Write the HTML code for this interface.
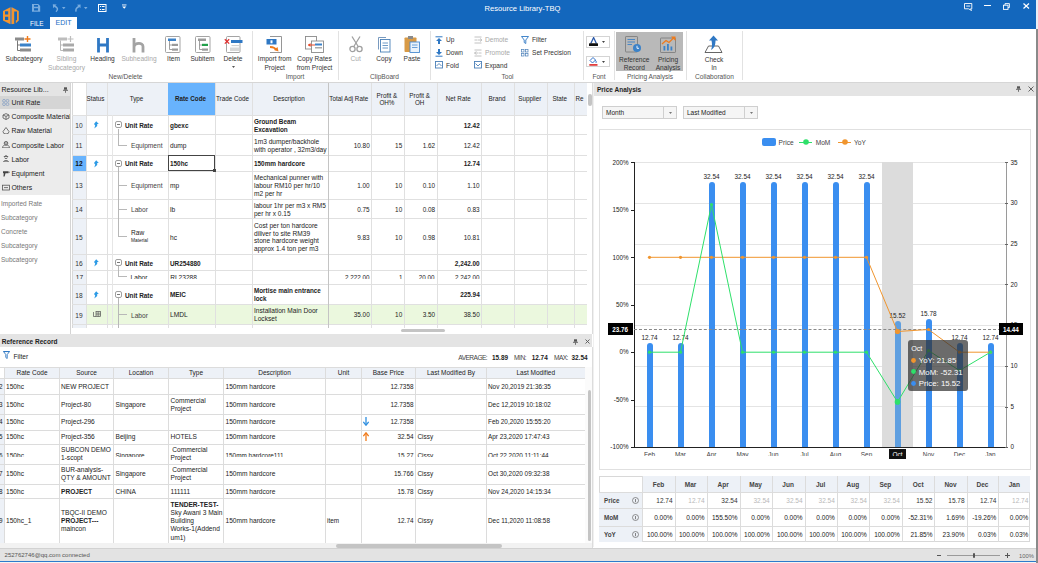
<!DOCTYPE html><html><head><meta charset="utf-8"><style>
*{margin:0;padding:0;box-sizing:border-box}
html,body{width:1038px;height:563px;overflow:hidden;background:#fff;font-family:"Liberation Sans",sans-serif;}
.t{position:absolute;white-space:pre;}
.r{position:absolute;}
</style></head><body>
<div class="r" style="left:0px;top:0px;width:1037px;height:29px;background:#1367bd;"></div>
<div class="r" style="left:1036px;top:0px;width:2px;height:29px;background:#e8eef6;"></div>
<svg class="r" style="left:0px;top:4px;" width="22" height="22" viewBox="0 0 22 22">
<path fill-rule="evenodd" fill="#f3952f" d="M10.4 3.2 L3 7 L3 16.6 L10.4 20.2 Z M5 7.2 H8.2 V10.5 H5 Z M5 12.8 H8.2 V16.1 H5 Z"/>
<rect x="10.4" y="3.4" width="1.4" height="16.6" fill="#7b8aa3"/>
<path fill-rule="evenodd" fill="#f3952f" d="M11.8 3.2 L18.8 7 L18.8 16.6 L15.8 19.2 L15.8 16.2 L17 16.2 L17 7.6 L14.2 7.6 L14.2 19.4 L15.2 19.4 L15.2 19.6 L11.8 20.2 Z"/>
</svg>
<svg class="r" style="left:32px;top:4px;" width="9" height="8" viewBox="0 0 9 8"><path fill-rule="evenodd" fill="#78acdf" d="M0 0 H6.2 L8.2 2 V7.8 H0 Z M2 1 H6 V2.8 H2 Z M2 4.2 H6 V6.6 H2 Z"/></svg>
<svg class="r" style="left:52px;top:4px;" width="8" height="9" viewBox="0 0 8 9"><path d="M0.8 0.3 L4.6 0.6 L1.2 4.2 Z" fill="#78acdf"/><path d="M2.4 2.2 C5.6 3 6.6 5.6 4 7.8" fill="none" stroke="#78acdf" stroke-width="1.5"/></svg>
<svg class="r" style="left:62px;top:7px;" width="4" height="3" viewBox="0 0 4 3"><path d="M0 0 L3.5 0 L1.75 2.2 Z" fill="#78acdf"/></svg>
<svg class="r" style="left:74px;top:4px;" width="8" height="9" viewBox="0 0 8 9"><path d="M6.6 0.5 L6.5 4.2 L3 0.8 Z" fill="#78acdf"/><path d="M5.4 2.2 C2.4 3.4 1.2 5.4 2.2 7.6" fill="none" stroke="#78acdf" stroke-width="1.5"/></svg>
<svg class="r" style="left:84px;top:7px;" width="4" height="3" viewBox="0 0 4 3"><path d="M0 0 L3.5 0 L1.75 2.2 Z" fill="#78acdf"/></svg>
<svg class="r" style="left:98px;top:4px;" width="9" height="8" viewBox="0 0 9 8"><rect x="0.5" y="0.5" width="7.5" height="7" fill="none" stroke="#fff" stroke-width="1"/><rect x="2" y="2" width="1" height="1" fill="#fff"/><rect x="3.8" y="2" width="2.8" height="1" fill="#fff"/><rect x="2" y="5" width="1" height="1" fill="#fff"/><rect x="3.8" y="5" width="2.8" height="1" fill="#fff"/></svg>
<svg class="r" style="left:122px;top:4px;" width="5" height="6" viewBox="0 0 5 6"><rect x="0" y="0.5" width="4.5" height="0.9" fill="#fff"/><path d="M0.2 2.4 L4.3 2.4 L2.25 4.8 Z" fill="#fff"/></svg>
<div class="t" style="top:4.32px;font-size:7.6px;line-height:9.12px;color:#fff;left:422.5px;width:200px;text-align:center;">Resource Library-TBQ</div>
<svg class="r" style="left:963.8px;top:2.6px;" width="9" height="8" viewBox="0 0 9 8"><path d="M0.5 0.5 H7.8 V5.8 H6.5 L7.5 7.5 L4.5 5.8 H0.5 Z" fill="none" stroke="#fff" stroke-width="0.9"/><rect x="2.2" y="2.6" width="4" height="0.9" fill="#fff"/></svg>
<div class="r" style="left:984.3px;top:5.2px;width:6.5px;height:1.1px;background:#fff;"></div>
<svg class="r" style="left:1003px;top:3px;" width="7" height="7" viewBox="0 0 7 7"><rect x="0.5" y="2.2" width="4.5" height="4.2" fill="none" stroke="#fff" stroke-width="0.9"/><path d="M2 2.2 V0.6 H6.4 V4.6 H5" fill="none" stroke="#fff" stroke-width="0.9"/></svg>
<svg class="r" style="left:1023px;top:3px;" width="7" height="6" viewBox="0 0 7 6"><path d="M0.5 0.5 L6 5.5 M6 0.5 L0.5 5.5" stroke="#fff" stroke-width="1.2"/></svg>
<div class="t" style="top:19.58px;font-size:6.4px;line-height:7.68px;color:#fff;left:30px;">FILE</div>
<div class="r" style="left:50px;top:17px;width:27px;height:12px;background:#fff;"></div>
<div class="t" style="top:19.25px;font-size:7px;line-height:8.4px;color:#1a6ec4;left:50.0px;width:27px;text-align:center;">EDIT</div>
<div class="r" style="left:0px;top:29px;width:1037px;height:53px;background:#fff;"></div>
<div class="r" style="left:0px;top:82px;width:1037px;height:1px;background:#d6d6d6;"></div>
<div class="r" style="left:251.5px;top:31px;width:1px;height:49px;background:#e2e2e2;"></div>
<div class="r" style="left:338px;top:31px;width:1px;height:49px;background:#e2e2e2;"></div>
<div class="r" style="left:429.5px;top:31px;width:1px;height:49px;background:#e2e2e2;"></div>
<div class="r" style="left:582.5px;top:31px;width:1px;height:49px;background:#e2e2e2;"></div>
<div class="r" style="left:613.5px;top:31px;width:1px;height:49px;background:#e2e2e2;"></div>
<div class="r" style="left:685.5px;top:31px;width:1px;height:49px;background:#e2e2e2;"></div>
<div class="r" style="left:742px;top:31px;width:1px;height:49px;background:#e2e2e2;"></div>
<div class="t" style="top:73.37px;font-size:6.6px;line-height:7.92px;color:#555;left:25.5px;width:200px;text-align:center;">New/Delete</div>
<div class="t" style="top:73.37px;font-size:6.6px;line-height:7.92px;color:#555;left:195.0px;width:200px;text-align:center;">Import</div>
<div class="t" style="top:73.37px;font-size:6.6px;line-height:7.92px;color:#555;left:284.5px;width:200px;text-align:center;">ClipBoard</div>
<div class="t" style="top:73.37px;font-size:6.6px;line-height:7.92px;color:#555;left:407.5px;width:200px;text-align:center;">Tool</div>
<div class="t" style="top:73.37px;font-size:6.6px;line-height:7.92px;color:#555;left:499.0px;width:200px;text-align:center;">Font</div>
<div class="t" style="top:73.37px;font-size:6.6px;line-height:7.92px;color:#555;left:550.0px;width:200px;text-align:center;">Pricing Analysis</div>
<div class="t" style="top:73.37px;font-size:6.6px;line-height:7.92px;color:#555;left:614.5px;width:200px;text-align:center;">Collaboration</div>
<svg class="r" style="left:15px;top:36px;" width="18" height="17" viewBox="0 0 18 17"><rect x="0" y="1.5" width="9" height="3" fill="#8c8c8c"/><path d="M12.5 0 V6 M9.5 3 H15.5" stroke="#f07a1a" stroke-width="1.4"/>
<path d="M2.5 4.5 V14.5 H5 M2.5 9 H5" fill="none" stroke="#6a6a6a" stroke-width="0.9"/><rect x="5" y="7.5" width="11" height="3" fill="#3c82c8"/><rect x="5" y="12.5" width="11" height="3" fill="#8c8c8c"/></svg>
<div class="t" style="top:55.27px;font-size:6.6px;line-height:7.92px;color:#333;left:-76.0px;width:200px;text-align:center;">Subcategory</div>
<svg class="r" style="left:58px;top:36px;" width="18" height="17" viewBox="0 0 18 17"><rect x="0" y="1.5" width="9" height="3" fill="#bdbdbd"/><path d="M12.5 0 V6 M9.5 3 H15.5" stroke="#bdbdbd" stroke-width="1.2"/>
<path d="M2.5 4.5 V14.5 H5 M2.5 9 H5" fill="none" stroke="#b0b0b0" stroke-width="0.9"/><rect x="5" y="7.5" width="11" height="3" fill="#a9a9a9"/><rect x="5" y="12.5" width="11" height="3" fill="#a9a9a9"/></svg>
<div class="t" style="top:55.27px;font-size:6.6px;line-height:7.92px;color:#a8a8a8;left:-33.5px;width:200px;text-align:center;">Sibling</div>
<div class="t" style="top:64.07px;font-size:6.6px;line-height:7.92px;color:#a8a8a8;left:-33.5px;width:200px;text-align:center;">Subcategory</div>
<svg class="r" style="left:96.5px;top:38px;" width="12" height="15" viewBox="0 0 12 15"><path d="M1.5 0 V14.5 M10.5 0 V14.5 M1.5 7 H10.5" stroke="#2f78c4" stroke-width="2.8"/></svg>
<div class="t" style="top:55.27px;font-size:6.6px;line-height:7.92px;color:#333;left:2.5px;width:200px;text-align:center;">Heading</div>
<svg class="r" style="left:132px;top:38px;" width="13" height="15" viewBox="0 0 13 15"><path d="M2 0 V14.5 M2 8.5 C3 4.5 11 4 11 8.5 V14.5" fill="none" stroke="#a3a3a3" stroke-width="2.8"/></svg>
<div class="t" style="top:55.27px;font-size:6.6px;line-height:7.92px;color:#a8a8a8;left:39.0px;width:200px;text-align:center;">Subheading</div>
<svg class="r" style="left:165px;top:36px;" width="16" height="17" viewBox="0 0 16 17"><rect x="0.5" y="0.5" width="14.5" height="16" rx="1" fill="#fff" stroke="#9a9a9a" stroke-width="0.9"/><rect x="3" y="2.5" width="8" height="2.5" fill="#3c82c8"/>
<path d="M4.5 5 V13.5 H7 M4.5 9 H7" fill="none" stroke="#888" stroke-width="0.8"/><rect x="7" y="7.8" width="6" height="2.2" fill="#9a9a9a"/><rect x="7" y="12.5" width="6" height="2.2" fill="#9a9a9a"/></svg>
<div class="t" style="top:55.27px;font-size:6.6px;line-height:7.92px;color:#333;left:73.5px;width:200px;text-align:center;">Item</div>
<svg class="r" style="left:195px;top:36px;" width="16" height="17" viewBox="0 0 16 17"><rect x="0.5" y="0.5" width="14.5" height="16" rx="1" fill="#fff" stroke="#9a9a9a" stroke-width="0.9"/><rect x="3" y="2.5" width="8" height="2.5" fill="#9a9a9a"/>
<path d="M4.5 5 V13.5 H7 M4.5 9 H7" fill="none" stroke="#888" stroke-width="0.8"/><rect x="7" y="7.8" width="6" height="2.2" fill="#21a04a"/><rect x="7" y="12.5" width="6" height="2.2" fill="#9a9a9a"/></svg>
<div class="t" style="top:55.27px;font-size:6.6px;line-height:7.92px;color:#333;left:102.5px;width:200px;text-align:center;">Subitem</div>
<svg class="r" style="left:224px;top:36px;" width="19" height="17" viewBox="0 0 19 17"><rect x="2.5" y="0.5" width="13.5" height="16" rx="1" fill="#fff" stroke="#9a9a9a" stroke-width="0.9"/>
<rect x="7" y="4" width="11.5" height="3" fill="#2f78c4"/><path d="M7.5 9.6 H15" stroke="#aaa" stroke-width="0.6"/><rect x="6" y="11.5" width="9" height="3.5" fill="#d8d8d8"/><path d="M0.8 3.2 L5.2 7.6 M5.2 3.2 L0.8 7.6" stroke="#e03030" stroke-width="1.3"/></svg>
<div class="t" style="top:55.27px;font-size:6.6px;line-height:7.92px;color:#333;left:133.0px;width:200px;text-align:center;">Delete</div>
<svg class="r" style="left:231.5px;top:65.5px;" width="3" height="2" viewBox="0 0 3 2"><path d="M0 0 H3 L1.5 2 Z" fill="#555"/></svg>
<svg class="r" style="left:266px;top:36px;" width="17" height="17" viewBox="0 0 17 17"><path d="M4 0.5 H15.5 V16.5 H4" fill="#fff" stroke="#8a8a8a" stroke-width="0.9"/><rect x="0.5" y="3" width="10" height="5.5" fill="#2f78c4"/><rect x="4.5" y="4.3" width="2" height="3" fill="#fff"/>
<path d="M4 11 C7 11 9 11.5 10 14" fill="none" stroke="#f07a1a" stroke-width="1.8"/><path d="M8 14 L12.5 15.5 L11.5 11 Z" fill="#f07a1a"/></svg>
<div class="t" style="top:55.27px;font-size:6.6px;line-height:7.92px;color:#333;left:174.7px;width:200px;text-align:center;">Import from</div>
<div class="t" style="top:63.77px;font-size:6.6px;line-height:7.92px;color:#333;left:174.7px;width:200px;text-align:center;">Project</div>
<svg class="r" style="left:305px;top:36px;" width="19" height="17" viewBox="0 0 19 17"><rect x="0.5" y="0.5" width="11" height="12.5" fill="#fff" stroke="#8a8a8a" stroke-width="0.9"/><rect x="6.5" y="5" width="12" height="11.5" fill="#fff" stroke="#8a8a8a" stroke-width="0.9"/>
<rect x="10" y="7.5" width="7" height="2" fill="#3c82c8"/><rect x="10" y="11" width="7" height="1.5" fill="#aaa"/><path d="M3 9 H10" stroke="#e84a2a" stroke-width="1"/><path d="M3 9 L5.5 7 V11 Z" fill="#e84a2a"/></svg>
<div class="t" style="top:55.27px;font-size:6.6px;line-height:7.92px;color:#333;left:214.60000000000002px;width:200px;text-align:center;">Copy Rates</div>
<div class="t" style="top:63.77px;font-size:6.6px;line-height:7.92px;color:#333;left:214.60000000000002px;width:200px;text-align:center;">from Project</div>
<svg class="r" style="left:349px;top:36px;" width="14" height="17" viewBox="0 0 14 17"><path d="M3 0.5 L9.5 11 M11 0.5 L4.5 11" stroke="#a0a0a0" stroke-width="1.3"/><circle cx="3.5" cy="13" r="2.6" fill="none" stroke="#a0a0a0" stroke-width="1.3"/><circle cx="10.5" cy="13" r="2.6" fill="none" stroke="#a0a0a0" stroke-width="1.3"/></svg>
<div class="t" style="top:55.27px;font-size:6.6px;line-height:7.92px;color:#a8a8a8;left:255.7px;width:200px;text-align:center;">Cut</div>
<svg class="r" style="left:378px;top:37px;" width="13" height="16" viewBox="0 0 13 16"><path d="M0.5 12.5 V0.5 H8" fill="none" stroke="#6a8fb8" stroke-width="0.9"/><rect x="2.5" y="2.5" width="9.5" height="12.5" fill="#fff" stroke="#4a80b8" stroke-width="0.9"/>
<path d="M4.5 6 H10 M4.5 8.5 H10 M4.5 11 H10" stroke="#4a80b8" stroke-width="0.8"/></svg>
<div class="t" style="top:55.27px;font-size:6.6px;line-height:7.92px;color:#333;left:284.0px;width:200px;text-align:center;">Copy</div>
<svg class="r" style="left:404px;top:35px;" width="16" height="18" viewBox="0 0 16 18"><rect x="0.5" y="2.5" width="12" height="14.5" rx="0.8" fill="#d89a46"/><rect x="4" y="1" width="5" height="3" fill="#8a8a8a"/>
<rect x="6" y="7" width="9.5" height="10.5" fill="#eaf3fb" stroke="#4a8ad0" stroke-width="0.9"/><path d="M8 10 H13.5 M8 12.5 H13.5" stroke="#4a8ad0" stroke-width="0.8"/></svg>
<div class="t" style="top:55.27px;font-size:6.6px;line-height:7.92px;color:#333;left:312.0px;width:200px;text-align:center;">Paste</div>
<svg class="r" style="left:435px;top:35.5px;" width="9" height="8" viewBox="0 0 9 8"><path d="M0.5 0.8 H7.5" stroke="#2f78c4" stroke-width="1"/><path d="M4 2 L1 5 H3 V8 H5 V5 H7 Z" fill="#2f78c4"/></svg>
<div class="t" style="top:36.37px;font-size:6.6px;line-height:7.92px;color:#333;left:446px;">Up</div>
<svg class="r" style="left:435px;top:48.5px;" width="9" height="8" viewBox="0 0 9 8"><path d="M0.5 7.2 H7.5" stroke="#2f78c4" stroke-width="1"/><path d="M4 6 L1 3 H3 V0 H5 V3 H7 Z" fill="#2f78c4"/></svg>
<div class="t" style="top:49.37px;font-size:6.6px;line-height:7.92px;color:#333;left:446px;">Down</div>
<svg class="r" style="left:435px;top:61px;" width="9" height="8" viewBox="0 0 9 8"><rect x="0.5" y="0.5" width="7" height="6.5" fill="none" stroke="#4a7fb8" stroke-width="0.9"/><path d="M1.5 5 L4 2.5 L6.5 5" fill="none" stroke="#4a7fb8" stroke-width="0.9"/></svg>
<div class="t" style="top:61.87px;font-size:6.6px;line-height:7.92px;color:#333;left:446px;">Fold</div>
<svg class="r" style="left:474px;top:35.5px;" width="9" height="8" viewBox="0 0 9 8"><path d="M0.5 1 H7.5 M0.5 4 H3 M0.5 7 H7.5 M3.5 4 H7.5" stroke="#bbb" stroke-width="0.9"/><path d="M6 2.5 L8 4 L6 5.5" fill="none" stroke="#bbb" stroke-width="0.9"/></svg>
<div class="t" style="top:36.37px;font-size:6.6px;line-height:7.92px;color:#a8a8a8;left:485px;">Demote</div>
<svg class="r" style="left:474px;top:48.5px;" width="9" height="8" viewBox="0 0 9 8"><path d="M0.5 1 H7.5 M5 4 H7.5 M0.5 7 H7.5 M0.5 4 H4.5" stroke="#bbb" stroke-width="0.9"/><path d="M2.5 2.5 L0.5 4 L2.5 5.5" fill="none" stroke="#bbb" stroke-width="0.9"/></svg>
<div class="t" style="top:49.37px;font-size:6.6px;line-height:7.92px;color:#a8a8a8;left:485px;">Promote</div>
<svg class="r" style="left:474px;top:61px;" width="9" height="8" viewBox="0 0 9 8"><rect x="0.5" y="0.5" width="7" height="6.5" fill="none" stroke="#4a7fb8" stroke-width="0.9"/><path d="M1.5 2.5 L4 5 L6.5 2.5" fill="none" stroke="#4a7fb8" stroke-width="0.9"/></svg>
<div class="t" style="top:61.87px;font-size:6.6px;line-height:7.92px;color:#333;left:485px;">Expand</div>
<svg class="r" style="left:521px;top:35.5px;" width="9" height="8" viewBox="0 0 9 8"><path d="M0.5 0.5 H7.5 L4.8 4 V7.5 L3.2 6.5 V4 Z" fill="none" stroke="#2f78c4" stroke-width="0.9"/></svg>
<div class="t" style="top:36.37px;font-size:6.6px;line-height:7.92px;color:#333;left:532px;">Filter</div>
<svg class="r" style="left:521px;top:48.5px;" width="9" height="8" viewBox="0 0 9 8"><rect x="0.5" y="0.5" width="2.5" height="2.5" fill="none" stroke="#4a7fb8" stroke-width="0.7"/><rect x="4.5" y="0.5" width="2.5" height="2.5" fill="none" stroke="#4a7fb8" stroke-width="0.7"/><rect x="0.5" y="4.5" width="2.5" height="2.5" fill="none" stroke="#4a7fb8" stroke-width="0.7"/><rect x="4.5" y="4.5" width="2.5" height="2.5" fill="none" stroke="#4a7fb8" stroke-width="0.7"/></svg>
<div class="t" style="top:49.37px;font-size:6.6px;line-height:7.92px;color:#333;left:532px;">Set Precision</div>
<div class="r" style="left:586px;top:36px;width:24px;height:12px;background:#fff;border:1px solid #d4d4d4;"></div>
<svg class="r" style="left:589px;top:37px;" width="10" height="10" viewBox="0 0 10 10"><path d="M1.8 6.6 L4.6 0.6 L7.4 6.6" fill="none" stroke="#2a58a8" stroke-width="1.3"/><rect x="0" y="6.3" width="9" height="2.8" rx="0.5" fill="#111"/></svg>
<svg class="r" style="left:602px;top:41px;" width="3" height="2" viewBox="0 0 3 2"><path d="M0 0 H3 L1.5 2 Z" fill="#444"/></svg>
<div class="r" style="left:586px;top:55.5px;width:24px;height:11.5px;background:#fff;border:1px solid #d4d4d4;"></div>
<svg class="r" style="left:589px;top:56.5px;" width="10" height="10" viewBox="0 0 10 10"><path d="M4 0.5 L1 3.5 L3.5 6 L6.5 3 Z" fill="none" stroke="#3070c8" stroke-width="1"/><path d="M6 3.2 C7.5 4 7.5 5 6.8 6" fill="none" stroke="#3070c8" stroke-width="1"/><rect x="0.3" y="7" width="8.2" height="1.8" fill="#e04040"/></svg>
<svg class="r" style="left:602px;top:60.5px;" width="3" height="2" viewBox="0 0 3 2"><path d="M0 0 H3 L1.5 2 Z" fill="#444"/></svg>
<div class="r" style="left:616px;top:32px;width:67px;height:39px;background:#b9b9b9;"></div>
<svg class="r" style="left:625px;top:36px;" width="17" height="17" viewBox="0 0 17 17"><rect x="0.5" y="0.5" width="12" height="15.5" rx="0.6" fill="none" stroke="#7f7f7f" stroke-width="0.9"/>
<path d="M2.5 3.5 H10 M2.5 6 H10 M2.5 8.5 H7" stroke="#3c82c8" stroke-width="0.9"/><circle cx="12" cy="12" r="4" fill="#3c82c8"/><path d="M12 9.8 V12.3 H14" fill="none" stroke="#fff" stroke-width="0.9"/></svg>
<div class="t" style="top:55.87px;font-size:6.6px;line-height:7.92px;color:#333;left:534.3px;width:200px;text-align:center;">Reference</div>
<div class="t" style="top:64.07px;font-size:6.6px;line-height:7.92px;color:#333;left:534.3px;width:200px;text-align:center;">Record</div>
<svg class="r" style="left:660px;top:36px;" width="17" height="17" viewBox="0 0 17 17"><rect x="0.5" y="2" width="15" height="14.5" rx="0.6" fill="none" stroke="#7f7f7f" stroke-width="0.9"/>
<rect x="3.5" y="10" width="1.8" height="4.5" fill="#3c82c8"/><rect x="7" y="8" width="1.8" height="6.5" fill="#3c82c8"/><rect x="10.5" y="10.5" width="1.8" height="4" fill="#3c82c8"/>
<path d="M2 8 L6 4.5 L9 6.5 L14 1.5" fill="none" stroke="#f07a1a" stroke-width="1.2"/><path d="M11 0.5 H15.5 V5 Z" fill="#f07a1a"/></svg>
<div class="t" style="top:55.87px;font-size:6.6px;line-height:7.92px;color:#333;left:568.0px;width:200px;text-align:center;">Pricing</div>
<div class="t" style="top:64.07px;font-size:6.6px;line-height:7.92px;color:#333;left:568.0px;width:200px;text-align:center;">Analysis</div>
<svg class="r" style="left:704px;top:35px;" width="19" height="19" viewBox="0 0 19 19"><path d="M1 17.5 L4.5 11 H14.5 L18 17.5 Z" fill="#fff" stroke="#555" stroke-width="0.9"/>
<path d="M9.5 0.5 L14 5.5 H11.5 C11.5 10 10.5 13 7 15 C8.5 12 8 8 7.5 5.5 H5 Z" fill="#2f78c4"/></svg>
<div class="t" style="top:55.77px;font-size:6.6px;line-height:7.92px;color:#333;left:614.0px;width:200px;text-align:center;">Check</div>
<div class="t" style="top:63.77px;font-size:6.6px;line-height:7.92px;color:#333;left:614.0px;width:200px;text-align:center;">In</div>
<div class="r" style="left:1036px;top:29px;width:2px;height:534px;background:#8a8a8a;"></div>
<div class="r" style="left:0px;top:83px;width:71px;height:251px;background:#fff;"></div>
<div class="r" style="left:0px;top:83px;width:71px;height:13px;background:#e4e4e4;"></div>
<div class="t" style="top:86.15px;font-size:7px;line-height:8.4px;color:#222;left:1.5px;">Resource Lib...</div>
<svg class="r" style="left:62.8px;top:86.8px;" width="5" height="7" viewBox="0 0 5 7"><rect x="1" y="0.3" width="3" height="2.4" fill="#555"/><rect x="0" y="2.8" width="5" height="0.9" fill="#555"/><rect x="2.1" y="3.6" width="0.8" height="2.2" fill="#555"/></svg>
<div class="r" style="left:0px;top:96px;width:71px;height:99px;background:#ececec;"></div>
<div class="r" style="left:0px;top:96px;width:71px;height:13px;background:#d5d5d5;"></div>
<div class="t" style="top:99.20px;font-size:6.9px;line-height:8.28px;color:#222;left:11.5px;">Unit Rate</div>
<svg class="r" style="left:1.5px;top:99.0px;" width="8" height="7" viewBox="0 0 8 7"><circle cx="2" cy="1.8" r="1.4" fill="none" stroke="#8aa2c4" stroke-width="0.8"/><circle cx="5.5" cy="1.8" r="1.4" fill="none" stroke="#8aa2c4" stroke-width="0.8"/><circle cx="2" cy="5.2" r="1.4" fill="none" stroke="#8aa2c4" stroke-width="0.8"/><circle cx="5.5" cy="5.2" r="1.4" fill="none" stroke="#8aa2c4" stroke-width="0.8"/></svg>
<div class="t" style="top:113.30px;font-size:6.9px;line-height:8.28px;color:#222;left:11.5px;">Composite Material</div>
<svg class="r" style="left:1.5px;top:113.1px;" width="8" height="7" viewBox="0 0 8 7"><path d="M1 2 L4 0.6 L7 2 V5 L4 6.5 L1 5 Z M1 2 L4 3.4 L7 2 M4 3.4 V6.5" fill="none" stroke="#555" stroke-width="0.8"/></svg>
<div class="t" style="top:127.40px;font-size:6.9px;line-height:8.28px;color:#222;left:11.5px;">Raw Material</div>
<svg class="r" style="left:1.5px;top:127.19999999999999px;" width="8" height="7" viewBox="0 0 8 7"><path d="M4 0.5 L1 4.5 A3 2.5 0 0 0 7 4.5 Z" fill="none" stroke="#555" stroke-width="0.8"/></svg>
<div class="t" style="top:141.51px;font-size:6.9px;line-height:8.28px;color:#222;left:11.5px;">Composite Labor</div>
<svg class="r" style="left:1.5px;top:141.3px;" width="8" height="7" viewBox="0 0 8 7"><circle cx="4" cy="2.2" r="1.8" fill="none" stroke="#555" stroke-width="0.8"/><path d="M0.5 6.8 C0.8 4.5 2 4 4 4 C6 4 7.2 4.5 7.5 6.8 Z M2 2 H6" fill="none" stroke="#555" stroke-width="0.8"/></svg>
<div class="t" style="top:155.61px;font-size:6.9px;line-height:8.28px;color:#222;left:11.5px;">Labor</div>
<svg class="r" style="left:1.5px;top:155.4px;" width="8" height="7" viewBox="0 0 8 7"><path d="M1.8 1.5 H6.2 M2.5 1.5 C2.5 0.5 5.5 0.5 5.5 1.5 M2.6 2.5 C2.6 4 5.4 4 5.4 2.5 M1.5 6.8 C1.5 5 6.5 5 6.5 6.8 Z" fill="none" stroke="#555" stroke-width="0.8"/></svg>
<div class="t" style="top:169.71px;font-size:6.9px;line-height:8.28px;color:#222;left:11.5px;">Equipment</div>
<svg class="r" style="left:1.5px;top:169.5px;" width="8" height="7" viewBox="0 0 8 7"><path d="M1 1.2 H6.5 V3.2 H3.5 L2.6 6.5 H1.4 L1.8 3.2 H1 Z" fill="#444"/><path d="M6.5 2.2 H7.8" stroke="#444" stroke-width="0.8"/></svg>
<div class="t" style="top:183.81px;font-size:6.9px;line-height:8.28px;color:#222;left:11.5px;">Others</div>
<svg class="r" style="left:1.5px;top:183.6px;" width="8" height="7" viewBox="0 0 8 7"><rect x="0.5" y="1.2" width="7" height="4.8" fill="none" stroke="#555" stroke-width="0.8"/><path d="M2 3.6 H6" stroke="#555" stroke-width="0.8"/></svg>
<div class="t" style="top:199.72px;font-size:6.5px;line-height:7.8px;color:#777;left:1px;">Imported Rate</div>
<div class="t" style="top:213.67px;font-size:6.5px;line-height:7.8px;color:#777;left:1px;">Subcategory</div>
<div class="t" style="top:227.62px;font-size:6.5px;line-height:7.8px;color:#777;left:1px;">Concrete</div>
<div class="t" style="top:241.57px;font-size:6.5px;line-height:7.8px;color:#777;left:1px;">Subcategory</div>
<div class="t" style="top:255.53px;font-size:6.5px;line-height:7.8px;color:#777;left:1px;">Subcategory</div>
<div class="r" style="left:70px;top:83px;width:1px;height:251px;background:#d4d4d4;"></div>
<div class="r" style="left:71px;top:83px;width:1px;height:251px;background:#fff;"></div>
<div class="r" style="left:72px;top:83px;width:1px;height:251px;background:#d8d8d8;"></div>
<div class="r" style="left:73px;top:83px;width:514px;height:251px;background:#fff;"></div>
<div class="r" style="left:86px;top:83px;width:501px;height:32px;background:#edf1f7;"></div>
<div class="r" style="left:73px;top:115px;width:13px;height:213px;background:#edf1f7;"></div>
<div class="r" style="left:73px;top:155px;width:13px;height:16px;background:#68b3fd;"></div>
<div class="r" style="left:86px;top:304.2px;width:501px;height:20.2px;background:#ebf8de;"></div>
<div class="r" style="left:72px;top:115px;width:515px;height:1px;background:#e0e0e0;"></div>
<div class="r" style="left:72px;top:134px;width:515px;height:1px;background:#e0e0e0;"></div>
<div class="r" style="left:72px;top:155px;width:515px;height:1px;background:#e0e0e0;"></div>
<div class="r" style="left:72px;top:171px;width:515px;height:1px;background:#e0e0e0;"></div>
<div class="r" style="left:72px;top:199px;width:515px;height:1px;background:#e0e0e0;"></div>
<div class="r" style="left:72px;top:218px;width:515px;height:1px;background:#e0e0e0;"></div>
<div class="r" style="left:72px;top:254px;width:515px;height:1px;background:#e0e0e0;"></div>
<div class="r" style="left:72px;top:270px;width:515px;height:1px;background:#e0e0e0;"></div>
<div class="r" style="left:72px;top:284px;width:515px;height:1px;background:#e0e0e0;"></div>
<div class="r" style="left:72px;top:304px;width:515px;height:1px;background:#e0e0e0;"></div>
<div class="r" style="left:72px;top:324px;width:515px;height:1px;background:#e0e0e0;"></div>
<div class="r" style="left:86px;top:83px;width:1px;height:245px;background:#e0e0e0;"></div>
<div class="r" style="left:107px;top:83px;width:1px;height:245px;background:#e0e0e0;"></div>
<div class="r" style="left:168px;top:83px;width:1px;height:245px;background:#e0e0e0;"></div>
<div class="r" style="left:215px;top:83px;width:1px;height:245px;background:#e0e0e0;"></div>
<div class="r" style="left:252px;top:83px;width:1px;height:245px;background:#e0e0e0;"></div>
<div class="r" style="left:328px;top:83px;width:1px;height:245px;background:#c4c4c4;"></div>
<div class="r" style="left:371px;top:83px;width:1px;height:245px;background:#e0e0e0;"></div>
<div class="r" style="left:404px;top:83px;width:1px;height:245px;background:#e0e0e0;"></div>
<div class="r" style="left:437px;top:83px;width:1px;height:245px;background:#e0e0e0;"></div>
<div class="r" style="left:481px;top:83px;width:1px;height:245px;background:#e0e0e0;"></div>
<div class="r" style="left:514px;top:83px;width:1px;height:245px;background:#e0e0e0;"></div>
<div class="r" style="left:547px;top:83px;width:1px;height:245px;background:#e0e0e0;"></div>
<div class="r" style="left:574px;top:83px;width:1px;height:245px;background:#e0e0e0;"></div>
<div class="r" style="left:112px;top:115px;width:1px;height:213px;background:#e6e6e6;"></div>
<div class="r" style="left:168px;top:83px;width:47px;height:32px;background:#68b3fd;"></div>
<div class="t" style="top:95.03px;font-size:6.3px;line-height:7.56px;color:#222;left:-4.5px;width:200px;text-align:center;">Status</div>
<div class="t" style="top:95.03px;font-size:6.3px;line-height:7.56px;color:#222;left:36.5px;width:200px;text-align:center;">Type</div>
<div class="t" style="top:95.03px;font-size:6.3px;line-height:7.56px;color:#222;font-weight:bold;left:90.5px;width:200px;text-align:center;">Rate Code</div>
<div class="t" style="top:95.03px;font-size:6.3px;line-height:7.56px;color:#222;left:132.5px;width:200px;text-align:center;">Trade Code</div>
<div class="t" style="top:95.03px;font-size:6.3px;line-height:7.56px;color:#222;left:189.0px;width:200px;text-align:center;">Description</div>
<div class="t" style="top:95.03px;font-size:6.3px;line-height:7.56px;color:#222;left:248.75px;width:200px;text-align:center;">Total Adj Rate</div>
<div class="t" style="top:91.83px;font-size:6.3px;line-height:7.56px;color:#222;left:286.95px;width:200px;text-align:center;">Profit &</div>
<div class="t" style="top:98.83px;font-size:6.3px;line-height:7.56px;color:#222;left:286.95px;width:200px;text-align:center;">OH%</div>
<div class="t" style="top:91.83px;font-size:6.3px;line-height:7.56px;color:#222;left:319.7px;width:200px;text-align:center;">Profit &</div>
<div class="t" style="top:98.83px;font-size:6.3px;line-height:7.56px;color:#222;left:319.7px;width:200px;text-align:center;">OH</div>
<div class="t" style="top:95.03px;font-size:6.3px;line-height:7.56px;color:#222;left:358.25px;width:200px;text-align:center;">Net Rate</div>
<div class="t" style="top:95.03px;font-size:6.3px;line-height:7.56px;color:#222;left:397.0px;width:200px;text-align:center;">Brand</div>
<div class="t" style="top:95.03px;font-size:6.3px;line-height:7.56px;color:#222;left:429.75px;width:200px;text-align:center;">Supplier</div>
<div class="t" style="top:95.03px;font-size:6.3px;line-height:7.56px;color:#222;left:459.75px;width:200px;text-align:center;">State</div>
<div class="t" style="top:95.03px;font-size:6.3px;line-height:7.56px;color:#222;left:575.5px;">Re</div>
<div class="r" style="left:585px;top:83px;width:2px;height:32px;background:#edf1f7;"></div>
<div class="r" style="left:587.5px;top:94px;width:4.5px;height:11.5px;background:#c4c4c4;border-radius:2px;"></div>
<div class="r" style="left:592px;top:83px;width:1px;height:251px;background:#dcdcdc;"></div>
<div class="t" style="top:122.12px;font-size:6.6px;line-height:7.92px;color:#333;left:-21.0px;width:200px;text-align:center;">10</div>
<svg class="r" style="left:92.8px;top:121.35px;" width="6" height="8" viewBox="0 0 6 8"><path d="M3.2 0.3 L5.8 3 H4.2 V5 L1.3 7.6 L2.2 4.6 L1 3 Z" fill="#2d9be6"/></svg>
<svg class="r" style="left:115px;top:121.25px;" width="7" height="7" viewBox="0 0 7 7"><rect x="0.5" y="0.5" width="6" height="6" rx="1.5" fill="#fff" stroke="#888" stroke-width="0.8"/><path d="M2 3.5 H5" stroke="#555" stroke-width="0.8"/></svg>
<div class="t" style="top:122.23px;font-size:6.4px;line-height:7.68px;color:#222;font-weight:bold;left:125px;">Unit Rate</div>
<div class="t" style="top:121.93px;font-size:6.4px;line-height:7.68px;color:#222;font-weight:bold;left:170px;">gbexc</div>
<div class="t" style="top:117.73px;font-size:6.4px;line-height:7.68px;color:#222;font-weight:bold;left:254px;">Ground Beam</div>
<div class="t" style="top:125.73px;font-size:6.4px;line-height:7.68px;color:#222;font-weight:bold;left:254px;">Excavation</div>
<div class="t" style="top:121.93px;font-size:6.4px;line-height:7.68px;color:#222;font-weight:bold;left:279.7px;width:200px;text-align:right;">12.42</div>
<div class="t" style="top:142.12px;font-size:6.6px;line-height:7.92px;color:#333;left:-21.0px;width:200px;text-align:center;">11</div>
<div class="r" style="left:118px;top:129px;width:1px;height:16px;background:#b8b8b8;"></div>
<div class="r" style="left:118px;top:145px;width:9px;height:1px;background:#b8b8b8;"></div>
<div class="t" style="top:142.12px;font-size:6.6px;line-height:7.92px;color:#444;left:131px;">Equipment</div>
<div class="t" style="top:141.82px;font-size:6.6px;line-height:7.92px;color:#222;left:170px;">dump</div>
<div class="t" style="top:137.62px;font-size:6.6px;line-height:7.92px;color:#222;left:254px;">1m3 dumper/backhole</div>
<div class="t" style="top:145.62px;font-size:6.6px;line-height:7.92px;color:#222;left:254px;">with operator , 32m3/day</div>
<div class="t" style="top:141.93px;font-size:6.4px;line-height:7.68px;color:#222;left:169.7px;width:200px;text-align:right;">10.80</div>
<div class="t" style="top:141.93px;font-size:6.4px;line-height:7.68px;color:#222;left:202.2px;width:200px;text-align:right;">15</div>
<div class="t" style="top:141.93px;font-size:6.4px;line-height:7.68px;color:#222;left:235.2px;width:200px;text-align:right;">1.62</div>
<div class="t" style="top:141.93px;font-size:6.4px;line-height:7.68px;color:#222;left:279.7px;width:200px;text-align:right;">12.42</div>
<div class="t" style="top:160.37px;font-size:6.6px;line-height:7.92px;color:#111;font-weight:bold;left:-21.0px;width:200px;text-align:center;">12</div>
<svg class="r" style="left:92.8px;top:159.6px;" width="6" height="8" viewBox="0 0 6 8"><path d="M3.2 0.3 L5.8 3 H4.2 V5 L1.3 7.6 L2.2 4.6 L1 3 Z" fill="#2d9be6"/></svg>
<svg class="r" style="left:115px;top:159.5px;" width="7" height="7" viewBox="0 0 7 7"><rect x="0.5" y="0.5" width="6" height="6" rx="1.5" fill="#fff" stroke="#888" stroke-width="0.8"/><path d="M2 3.5 H5" stroke="#555" stroke-width="0.8"/></svg>
<div class="t" style="top:160.48px;font-size:6.4px;line-height:7.68px;color:#222;font-weight:bold;left:125px;">Unit Rate</div>
<div class="r" style="left:168px;top:155px;width:47px;height:16px;background:transparent;border:1px solid #444;"></div>
<div class="r" style="left:213px;top:169px;width:2.5px;height:2.5px;background:#444;"></div>
<div class="t" style="top:160.18px;font-size:6.4px;line-height:7.68px;color:#222;font-weight:bold;left:170px;">150hc</div>
<div class="t" style="top:160.18px;font-size:6.4px;line-height:7.68px;color:#222;font-weight:bold;left:254px;">150mm hardcore</div>
<div class="t" style="top:160.18px;font-size:6.4px;line-height:7.68px;color:#222;font-weight:bold;left:279.7px;width:200px;text-align:right;">12.74</div>
<div class="r" style="left:118px;top:167px;width:1px;height:70px;background:#b8b8b8;"></div>
<div class="t" style="top:182.37px;font-size:6.6px;line-height:7.92px;color:#333;left:-21.0px;width:200px;text-align:center;">13</div>
<div class="r" style="left:118px;top:185px;width:9px;height:1px;background:#b8b8b8;"></div>
<div class="t" style="top:182.37px;font-size:6.6px;line-height:7.92px;color:#444;left:131px;">Equipment</div>
<div class="t" style="top:182.07px;font-size:6.6px;line-height:7.92px;color:#222;left:170px;">mp</div>
<div class="t" style="top:173.67px;font-size:6.6px;line-height:7.92px;color:#222;left:254px;">Mechanical punner with</div>
<div class="t" style="top:181.87px;font-size:6.6px;line-height:7.92px;color:#222;left:254px;">labour RM10 per hr/10</div>
<div class="t" style="top:190.07px;font-size:6.6px;line-height:7.92px;color:#222;left:254px;">m2 per hr</div>
<div class="t" style="top:182.18px;font-size:6.4px;line-height:7.68px;color:#222;left:169.7px;width:200px;text-align:right;">1.00</div>
<div class="t" style="top:182.18px;font-size:6.4px;line-height:7.68px;color:#222;left:202.2px;width:200px;text-align:right;">10</div>
<div class="t" style="top:182.18px;font-size:6.4px;line-height:7.68px;color:#222;left:235.2px;width:200px;text-align:right;">0.10</div>
<div class="t" style="top:182.18px;font-size:6.4px;line-height:7.68px;color:#222;left:279.7px;width:200px;text-align:right;">1.10</div>
<div class="t" style="top:206.12px;font-size:6.6px;line-height:7.92px;color:#333;left:-21.0px;width:200px;text-align:center;">14</div>
<div class="r" style="left:118px;top:209px;width:9px;height:1px;background:#b8b8b8;"></div>
<div class="t" style="top:206.12px;font-size:6.6px;line-height:7.92px;color:#444;left:131px;">Labor</div>
<div class="t" style="top:205.82px;font-size:6.6px;line-height:7.92px;color:#222;left:170px;">lb</div>
<div class="t" style="top:201.67px;font-size:6.5px;line-height:7.8px;color:#222;left:254px;">labour 1hr per m3 x RM5</div>
<div class="t" style="top:209.67px;font-size:6.5px;line-height:7.8px;color:#222;left:254px;">per hr x 0.15</div>
<div class="t" style="top:205.93px;font-size:6.4px;line-height:7.68px;color:#222;left:169.7px;width:200px;text-align:right;">0.75</div>
<div class="t" style="top:205.93px;font-size:6.4px;line-height:7.68px;color:#222;left:202.2px;width:200px;text-align:right;">10</div>
<div class="t" style="top:205.93px;font-size:6.4px;line-height:7.68px;color:#222;left:235.2px;width:200px;text-align:right;">0.08</div>
<div class="t" style="top:205.93px;font-size:6.4px;line-height:7.68px;color:#222;left:279.7px;width:200px;text-align:right;">0.83</div>
<div class="t" style="top:233.87px;font-size:6.6px;line-height:7.92px;color:#333;left:-21.0px;width:200px;text-align:center;">15</div>
<div class="r" style="left:118px;top:236px;width:9px;height:1px;background:#b8b8b8;"></div>
<div class="t" style="top:229.37px;font-size:6.6px;line-height:7.92px;color:#222;left:131px;">Raw</div>
<div class="t" style="top:237.86px;font-size:4.8px;line-height:5.76px;color:#222;left:131px;">Material</div>
<div class="t" style="top:233.57px;font-size:6.6px;line-height:7.92px;color:#222;left:170px;">hc</div>
<div class="t" style="top:221.82px;font-size:6.6px;line-height:7.92px;color:#222;left:254px;">Cost per ton hardcore</div>
<div class="t" style="top:229.66px;font-size:6.6px;line-height:7.92px;color:#222;left:254px;">diliver to site RM39</div>
<div class="t" style="top:237.48px;font-size:6.6px;line-height:7.92px;color:#222;left:254px;">stone hardcore weight</div>
<div class="t" style="top:245.31px;font-size:6.6px;line-height:7.92px;color:#222;left:254px;">approx 1.4 ton per m3</div>
<div class="t" style="top:233.68px;font-size:6.4px;line-height:7.68px;color:#222;left:169.7px;width:200px;text-align:right;">9.83</div>
<div class="t" style="top:233.68px;font-size:6.4px;line-height:7.68px;color:#222;left:202.2px;width:200px;text-align:right;">10</div>
<div class="t" style="top:233.68px;font-size:6.4px;line-height:7.68px;color:#222;left:235.2px;width:200px;text-align:right;">0.98</div>
<div class="t" style="top:233.68px;font-size:6.4px;line-height:7.68px;color:#222;left:279.7px;width:200px;text-align:right;">10.81</div>
<div class="t" style="top:259.87px;font-size:6.6px;line-height:7.92px;color:#333;left:-21.0px;width:200px;text-align:center;">16</div>
<svg class="r" style="left:92.8px;top:259.1px;" width="6" height="8" viewBox="0 0 6 8"><path d="M3.2 0.3 L5.8 3 H4.2 V5 L1.3 7.6 L2.2 4.6 L1 3 Z" fill="#2d9be6"/></svg>
<svg class="r" style="left:115px;top:259.0px;" width="7" height="7" viewBox="0 0 7 7"><rect x="0.5" y="0.5" width="6" height="6" rx="1.5" fill="#fff" stroke="#888" stroke-width="0.8"/><path d="M2 3.5 H5" stroke="#555" stroke-width="0.8"/></svg>
<div class="t" style="top:259.98px;font-size:6.4px;line-height:7.68px;color:#222;font-weight:bold;left:125px;">Unit Rate</div>
<div class="t" style="top:259.68px;font-size:6.4px;line-height:7.68px;color:#222;font-weight:bold;left:170px;">UR254880</div>
<div class="t" style="top:259.68px;font-size:6.4px;line-height:7.68px;color:#222;font-weight:bold;left:279.7px;width:200px;text-align:right;">2,242.00</div>
<div class="r" style="left:72px;top:271px;width:515px;height:8.3px;overflow:hidden">
<div class="t" style="left:3.799999999999997px;top:1.91px;font-size:6.6px;line-height:9px;color:#222">17</div>
<div class="t" style="left:58.599999999999994px;top:1.91px;font-size:6.6px;line-height:9px;color:#222">Labor</div>
<div class="t" style="left:98.19999999999999px;top:1.91px;font-size:6.6px;line-height:9px;color:#222">RL23288</div>
<div class="t" style="left:197.5px;width:100px;text-align:right;top:2.02px;font-size:6.3px;line-height:9px;color:#222">2,222.00</div>
<div class="t" style="left:230.5px;width:100px;text-align:right;top:2.02px;font-size:6.3px;line-height:9px;color:#222">1</div>
<div class="t" style="left:262.5px;width:100px;text-align:right;top:2.02px;font-size:6.3px;line-height:9px;color:#222">20.00</div>
<div class="t" style="left:307.5px;width:100px;text-align:right;top:2.02px;font-size:6.3px;line-height:9px;color:#222">2,242.00</div>
</div>
<div class="r" style="left:118px;top:266px;width:1px;height:11px;background:#b8b8b8;"></div>
<div class="r" style="left:118px;top:276px;width:9px;height:1px;background:#b8b8b8;"></div>
<div class="t" style="top:291.62px;font-size:6.6px;line-height:7.92px;color:#333;left:-21.0px;width:200px;text-align:center;">18</div>
<svg class="r" style="left:92.8px;top:290.85px;" width="6" height="8" viewBox="0 0 6 8"><path d="M3.2 0.3 L5.8 3 H4.2 V5 L1.3 7.6 L2.2 4.6 L1 3 Z" fill="#2d9be6"/></svg>
<svg class="r" style="left:115px;top:290.75px;" width="7" height="7" viewBox="0 0 7 7"><rect x="0.5" y="0.5" width="6" height="6" rx="1.5" fill="#fff" stroke="#888" stroke-width="0.8"/><path d="M2 3.5 H5" stroke="#555" stroke-width="0.8"/></svg>
<div class="t" style="top:291.73px;font-size:6.4px;line-height:7.68px;color:#222;font-weight:bold;left:125px;">Unit Rate</div>
<div class="t" style="top:291.43px;font-size:6.4px;line-height:7.68px;color:#222;font-weight:bold;left:170px;">MEIC</div>
<div class="t" style="top:287.28px;font-size:6.3px;line-height:7.56px;color:#222;font-weight:bold;left:254px;">Mortise main entrance</div>
<div class="t" style="top:295.28px;font-size:6.3px;line-height:7.56px;color:#222;font-weight:bold;left:254px;">lock</div>
<div class="t" style="top:291.43px;font-size:6.4px;line-height:7.68px;color:#222;font-weight:bold;left:279.7px;width:200px;text-align:right;">225.94</div>
<div class="r" style="left:118px;top:298px;width:1px;height:30px;background:#b8b8b8;"></div>
<div class="t" style="top:311.67px;font-size:6.6px;line-height:7.92px;color:#333;left:-21.0px;width:200px;text-align:center;">19</div>
<svg class="r" style="left:93px;top:311.29999999999995px;" width="8" height="6" viewBox="0 0 8 6"><path d="M0.5 1 V5.5 H3" fill="none" stroke="#555" stroke-width="0.7"/><rect x="3" y="0.5" width="4.5" height="5" fill="none" stroke="#555" stroke-width="0.7"/><path d="M3 2.2 H7.5 M3 3.8 H7.5 M5.2 0.5 V5.5" stroke="#555" stroke-width="0.6"/></svg>
<div class="r" style="left:118px;top:314px;width:9px;height:1px;background:#b8b8b8;"></div>
<div class="t" style="top:311.67px;font-size:6.6px;line-height:7.92px;color:#444;left:131px;">Labor</div>
<div class="t" style="top:311.37px;font-size:6.6px;line-height:7.92px;color:#222;left:170px;">LMDL</div>
<div class="t" style="top:307.17px;font-size:6.6px;line-height:7.92px;color:#222;left:254px;">Installation Main Door</div>
<div class="t" style="top:315.17px;font-size:6.6px;line-height:7.92px;color:#222;left:254px;">Lockset</div>
<div class="t" style="top:311.48px;font-size:6.4px;line-height:7.68px;color:#222;left:169.7px;width:200px;text-align:right;">35.00</div>
<div class="t" style="top:311.48px;font-size:6.4px;line-height:7.68px;color:#222;left:202.2px;width:200px;text-align:right;">10</div>
<div class="t" style="top:311.48px;font-size:6.4px;line-height:7.68px;color:#222;left:235.2px;width:200px;text-align:right;">3.50</div>
<div class="t" style="top:311.48px;font-size:6.4px;line-height:7.68px;color:#222;left:279.7px;width:200px;text-align:right;">38.50</div>
<div class="r" style="left:72px;top:327.5px;width:515px;height:6px;background:#fff;"></div>
<div class="r" style="left:401px;top:328.5px;width:44px;height:3.5px;background:#c4c4c4;border-radius:2px;"></div>
<div class="r" style="left:0px;top:334px;width:592px;height:13.5px;background:#e4e4e4;"></div>
<div class="t" style="top:338.12px;font-size:6.5px;line-height:7.8px;color:#222;font-weight:bold;left:1.8px;">Reference Record</div>
<svg class="r" style="left:573.3px;top:338.5px;" width="5" height="7" viewBox="0 0 5 7"><rect x="1" y="0.3" width="3" height="2.4" fill="#555"/><rect x="0" y="2.8" width="5" height="0.9" fill="#555"/><rect x="2.1" y="3.6" width="0.8" height="2.2" fill="#555"/></svg>
<svg class="r" style="left:584.8px;top:339.2px;" width="5" height="5" viewBox="0 0 5 5"><path d="M0.5 0.5 L4.5 4.5 M4.5 0.5 L0.5 4.5" stroke="#555" stroke-width="0.9"/></svg>
<div class="r" style="left:0px;top:347px;width:592px;height:200px;background:#fff;"></div>
<svg class="r" style="left:3px;top:351px;" width="7" height="8" viewBox="0 0 7 8"><path d="M0.5 0.5 H6.5 L4.2 3.6 V7.5 L2.8 6.5 V3.6 Z" fill="none" stroke="#2f78c4" stroke-width="0.9"/><path d="M0.5 0.5 H6.5" stroke="#2f78c4" stroke-width="1.2"/></svg>
<div class="t" style="top:353.37px;font-size:6.6px;line-height:7.92px;color:#222;left:13.5px;">Filter</div>
<div class="t" style="top:353.57px;font-size:6.6px;line-height:7.92px;color:#444;left:458.3px;letter-spacing:-0.55px;">AVERAGE:</div>
<div class="t" style="top:353.68px;font-size:6.4px;line-height:7.68px;color:#222;font-weight:bold;left:492px;">15.89</div>
<div class="t" style="top:353.57px;font-size:6.6px;line-height:7.92px;color:#444;left:513.9px;letter-spacing:-0.4px;">MIN:</div>
<div class="t" style="top:353.68px;font-size:6.4px;line-height:7.68px;color:#222;font-weight:bold;left:531.7px;">12.74</div>
<div class="t" style="top:353.57px;font-size:6.6px;line-height:7.92px;color:#444;left:554px;letter-spacing:-0.6px;">MAX:</div>
<div class="t" style="top:353.68px;font-size:6.4px;line-height:7.68px;color:#222;font-weight:bold;left:571.5px;">32.54</div>
<div class="r" style="left:4.5px;top:366.7px;width:580.5px;height:11.8px;background:#edf1f7;"></div>
<div class="r" style="left:0px;top:378.5px;width:4.5px;height:164.5px;background:#edf1f7;"></div>
<div class="r" style="left:0px;top:367px;width:585px;height:1px;background:#dcdcdc;"></div>
<div class="r" style="left:0px;top:378px;width:585px;height:1px;background:#dcdcdc;"></div>
<div class="r" style="left:0px;top:394px;width:585px;height:1px;background:#dcdcdc;"></div>
<div class="r" style="left:0px;top:414px;width:585px;height:1px;background:#dcdcdc;"></div>
<div class="r" style="left:0px;top:430px;width:585px;height:1px;background:#dcdcdc;"></div>
<div class="r" style="left:0px;top:444px;width:585px;height:1px;background:#dcdcdc;"></div>
<div class="r" style="left:0px;top:464px;width:585px;height:1px;background:#dcdcdc;"></div>
<div class="r" style="left:0px;top:484px;width:585px;height:1px;background:#dcdcdc;"></div>
<div class="r" style="left:0px;top:498px;width:585px;height:1px;background:#dcdcdc;"></div>
<div class="r" style="left:0px;top:543px;width:585px;height:1px;background:#dcdcdc;"></div>
<div class="r" style="left:4px;top:366.7px;width:1px;height:176.3px;background:#dcdcdc;"></div>
<div class="r" style="left:59px;top:366.7px;width:1px;height:176.3px;background:#dcdcdc;"></div>
<div class="r" style="left:113px;top:366.7px;width:1px;height:176.3px;background:#dcdcdc;"></div>
<div class="r" style="left:168px;top:366.7px;width:1px;height:176.3px;background:#dcdcdc;"></div>
<div class="r" style="left:223px;top:366.7px;width:1px;height:176.3px;background:#dcdcdc;"></div>
<div class="r" style="left:325px;top:366.7px;width:1px;height:176.3px;background:#dcdcdc;"></div>
<div class="r" style="left:361px;top:366.7px;width:1px;height:176.3px;background:#dcdcdc;"></div>
<div class="r" style="left:415px;top:366.7px;width:1px;height:176.3px;background:#dcdcdc;"></div>
<div class="r" style="left:486px;top:366.7px;width:1px;height:176.3px;background:#dcdcdc;"></div>
<div class="r" style="left:585px;top:366.7px;width:1px;height:176.3px;background:#dcdcdc;"></div>
<div class="t" style="top:369.12px;font-size:6.5px;line-height:7.8px;color:#222;left:-68.0px;width:200px;text-align:center;">Rate Code</div>
<div class="t" style="top:369.12px;font-size:6.5px;line-height:7.8px;color:#222;left:-13.5px;width:200px;text-align:center;">Source</div>
<div class="t" style="top:369.12px;font-size:6.5px;line-height:7.8px;color:#222;left:41.0px;width:200px;text-align:center;">Location</div>
<div class="t" style="top:369.12px;font-size:6.5px;line-height:7.8px;color:#222;left:96.0px;width:200px;text-align:center;">Type</div>
<div class="t" style="top:369.12px;font-size:6.5px;line-height:7.8px;color:#222;left:174.5px;width:200px;text-align:center;">Description</div>
<div class="t" style="top:369.12px;font-size:6.5px;line-height:7.8px;color:#222;left:243.5px;width:200px;text-align:center;">Unit</div>
<div class="t" style="top:369.12px;font-size:6.5px;line-height:7.8px;color:#222;left:288.5px;width:200px;text-align:center;">Base Price</div>
<div class="t" style="top:369.12px;font-size:6.5px;line-height:7.8px;color:#222;left:351.0px;width:200px;text-align:center;">Last Modified By</div>
<div class="t" style="top:369.12px;font-size:6.5px;line-height:7.8px;color:#222;left:435.75px;width:200px;text-align:center;">Last Modified</div>
<div class="t" style="top:382.88px;font-size:6.4px;line-height:7.68px;color:#222;left:-1px;">2</div>
<div class="t" style="top:382.77px;font-size:6.6px;line-height:7.92px;color:#222;left:6px;">150hc</div>
<div class="t" style="top:382.77px;font-size:6.6px;line-height:7.92px;color:#222;left:61px;">NEW PROJECT</div>
<div class="t" style="top:382.77px;font-size:6.6px;line-height:7.92px;color:#222;left:225.5px;">150mm hardcore</div>
<div class="t" style="top:382.88px;font-size:6.4px;line-height:7.68px;color:#222;left:213.5px;width:200px;text-align:right;">12.7358</div>
<div class="t" style="top:382.88px;font-size:6.4px;line-height:7.68px;color:#222;left:488px;">Nov 20,2019 21:36:35</div>
<div class="t" style="top:400.88px;font-size:6.4px;line-height:7.68px;color:#222;left:-1px;">3</div>
<div class="t" style="top:400.77px;font-size:6.6px;line-height:7.92px;color:#222;left:6px;">150hc</div>
<div class="t" style="top:400.77px;font-size:6.6px;line-height:7.92px;color:#222;left:61px;">Project-80</div>
<div class="t" style="top:400.77px;font-size:6.6px;line-height:7.92px;color:#222;left:115.5px;">Singapore</div>
<div class="t" style="top:396.97px;font-size:6.6px;line-height:7.92px;color:#222;left:170.5px;">Commercial</div>
<div class="t" style="top:404.57px;font-size:6.6px;line-height:7.92px;color:#222;left:170.5px;">Project</div>
<div class="t" style="top:400.77px;font-size:6.6px;line-height:7.92px;color:#222;left:225.5px;">150mm hardcore</div>
<div class="t" style="top:400.88px;font-size:6.4px;line-height:7.68px;color:#222;left:213.5px;width:200px;text-align:right;">12.7358</div>
<div class="t" style="top:400.88px;font-size:6.4px;line-height:7.68px;color:#222;left:488px;">Dec 12,2019 10:18:02</div>
<div class="t" style="top:418.48px;font-size:6.4px;line-height:7.68px;color:#222;left:-1px;">4</div>
<div class="t" style="top:418.37px;font-size:6.6px;line-height:7.92px;color:#222;left:6px;">150hc</div>
<div class="t" style="top:418.37px;font-size:6.6px;line-height:7.92px;color:#222;left:61px;">Project-296</div>
<div class="t" style="top:418.37px;font-size:6.6px;line-height:7.92px;color:#222;left:225.5px;">150mm hardcore</div>
<div class="t" style="top:418.48px;font-size:6.4px;line-height:7.68px;color:#222;left:213.5px;width:200px;text-align:right;">12.7358</div>
<div class="t" style="top:418.48px;font-size:6.4px;line-height:7.68px;color:#222;left:488px;">Feb 20,2020 15:55:20</div>
<svg class="r" style="left:363px;top:417.0px;" width="6" height="9" viewBox="0 0 6 9"><path d="M3 0 V7" stroke="#2f8fe0" stroke-width="1.3"/><path d="M0.3 4.8 L3 8.2 L5.7 4.8" fill="none" stroke="#2f8fe0" stroke-width="1.3"/></svg>
<div class="t" style="top:433.48px;font-size:6.4px;line-height:7.68px;color:#222;left:-1px;">5</div>
<div class="t" style="top:433.37px;font-size:6.6px;line-height:7.92px;color:#222;left:6px;">150hc</div>
<div class="t" style="top:433.37px;font-size:6.6px;line-height:7.92px;color:#222;left:61px;">Project-356</div>
<div class="t" style="top:433.37px;font-size:6.6px;line-height:7.92px;color:#222;left:115.5px;">Beijing</div>
<div class="t" style="top:433.37px;font-size:6.6px;line-height:7.92px;color:#222;left:170.5px;">HOTELS</div>
<div class="t" style="top:433.37px;font-size:6.6px;line-height:7.92px;color:#222;left:225.5px;">150mm hardcore</div>
<div class="t" style="top:433.48px;font-size:6.4px;line-height:7.68px;color:#222;left:213.5px;width:200px;text-align:right;">32.54</div>
<div class="t" style="top:433.48px;font-size:6.4px;line-height:7.68px;color:#222;left:417.5px;">Cissy</div>
<div class="t" style="top:433.48px;font-size:6.4px;line-height:7.68px;color:#222;left:488px;">Apr 23,2020 17:47:43</div>
<svg class="r" style="left:363px;top:432.0px;" width="6" height="9" viewBox="0 0 6 9"><path d="M3 1.5 V9" stroke="#f07a1a" stroke-width="1.3"/><path d="M0.3 4.2 L3 0.8 L5.7 4.2" fill="none" stroke="#f07a1a" stroke-width="1.3"/></svg>
<div class="t" style="top:446.37px;font-size:6.6px;line-height:7.92px;color:#222;left:61px;">SUBCON DEMO</div>
<div class="t" style="top:453.97px;font-size:6.6px;line-height:7.92px;color:#222;left:61px;">1-scopt</div>
<div class="t" style="top:446.37px;font-size:6.6px;line-height:7.92px;color:#222;left:170.5px;"> Commercial</div>
<div class="t" style="top:453.97px;font-size:6.6px;line-height:7.92px;color:#222;left:170.5px;">Project</div>
<div class="r" style="left:0;top:445px;width:585px;height:11.6px;overflow:hidden">
<div class="t" style="left:-1px;top:5.58px;font-size:6.4px;line-height:9px;color:#222">6</div>
<div class="t" style="left:6px;top:5.51px;font-size:6.6px;line-height:9px;color:#222">150hc</div>
<div class="t" style="left:115.5px;top:5.58px;font-size:6.4px;line-height:9px;color:#222">Singapore</div>
<div class="t" style="left:225.5px;top:5.58px;font-size:6.4px;line-height:9px;color:#222">150mm hardcore111</div>
<div class="t" style="left:313.5px;width:100px;text-align:right;top:5.58px;font-size:6.4px;line-height:9px;color:#222">15.27</div>
<div class="t" style="left:417.5px;top:5.58px;font-size:6.4px;line-height:9px;color:#222">Cissy</div>
<div class="t" style="left:488px;top:5.58px;font-size:6.4px;line-height:9px;color:#222">Oct 22,2020 11:11:44</div>
</div>
<div class="t" style="top:470.23px;font-size:6.4px;line-height:7.68px;color:#222;left:-1px;">7</div>
<div class="t" style="top:470.12px;font-size:6.6px;line-height:7.92px;color:#222;left:6px;">150hc</div>
<div class="t" style="top:466.32px;font-size:6.6px;line-height:7.92px;color:#222;left:61px;">BUR-analysis-</div>
<div class="t" style="top:473.92px;font-size:6.6px;line-height:7.92px;color:#222;left:61px;">QTY & AMOUNT</div>
<div class="t" style="top:470.12px;font-size:6.6px;line-height:7.92px;color:#222;left:115.5px;">Singapore</div>
<div class="t" style="top:466.32px;font-size:6.6px;line-height:7.92px;color:#222;left:170.5px;"> Commercial</div>
<div class="t" style="top:473.92px;font-size:6.6px;line-height:7.92px;color:#222;left:170.5px;">Project</div>
<div class="t" style="top:470.12px;font-size:6.6px;line-height:7.92px;color:#222;left:225.5px;">150mm hardcore</div>
<div class="t" style="top:470.23px;font-size:6.4px;line-height:7.68px;color:#222;left:213.5px;width:200px;text-align:right;">15.766</div>
<div class="t" style="top:470.23px;font-size:6.4px;line-height:7.68px;color:#222;left:417.5px;">Cissy</div>
<div class="t" style="top:470.23px;font-size:6.4px;line-height:7.68px;color:#222;left:488px;">Oct 30,2020 09:32:38</div>
<div class="t" style="top:487.73px;font-size:6.4px;line-height:7.68px;color:#222;left:-1px;">8</div>
<div class="t" style="top:487.62px;font-size:6.6px;line-height:7.92px;color:#222;left:6px;">150hc</div>
<div class="t" style="top:487.62px;font-size:6.6px;line-height:7.92px;color:#222;left:61px;"><b>PROJECT</b></div>
<div class="t" style="top:487.62px;font-size:6.6px;line-height:7.92px;color:#222;left:115.5px;">CHINA</div>
<div class="t" style="top:487.62px;font-size:6.6px;line-height:7.92px;color:#222;left:170.5px;">111111</div>
<div class="t" style="top:487.62px;font-size:6.6px;line-height:7.92px;color:#222;left:225.5px;">150mm hardcore</div>
<div class="t" style="top:487.73px;font-size:6.4px;line-height:7.68px;color:#222;left:213.5px;width:200px;text-align:right;">15.78</div>
<div class="t" style="top:487.73px;font-size:6.4px;line-height:7.68px;color:#222;left:417.5px;">Cissy</div>
<div class="t" style="top:487.73px;font-size:6.4px;line-height:7.68px;color:#222;left:488px;">Nov 24,2020 14:15:34</div>
<div class="t" style="top:517.23px;font-size:6.4px;line-height:7.68px;color:#222;left:-1px;">9</div>
<div class="t" style="top:517.12px;font-size:6.6px;line-height:7.92px;color:#222;left:6px;">150hc_1</div>
<div class="t" style="top:508.92px;font-size:6.6px;line-height:7.92px;color:#222;left:61px;">TBQC-II DEMO</div>
<div class="t" style="top:517.12px;font-size:6.6px;line-height:7.92px;color:#222;left:61px;"><b>PROJECT---</b></div>
<div class="t" style="top:525.32px;font-size:6.6px;line-height:7.92px;color:#222;left:61px;">maincon</div>
<div class="t" style="top:500.72px;font-size:6.6px;line-height:7.92px;color:#222;left:170.5px;"><b>TENDER-TEST-</b></div>
<div class="t" style="top:508.92px;font-size:6.6px;line-height:7.92px;color:#222;left:170.5px;">Sky Awani 3 Main</div>
<div class="t" style="top:517.12px;font-size:6.6px;line-height:7.92px;color:#222;left:170.5px;">Building</div>
<div class="t" style="top:525.32px;font-size:6.6px;line-height:7.92px;color:#222;left:170.5px;">Works-1(Addend</div>
<div class="t" style="top:533.52px;font-size:6.6px;line-height:7.92px;color:#222;left:170.5px;">um1)</div>
<div class="t" style="top:517.12px;font-size:6.6px;line-height:7.92px;color:#222;left:225.5px;">150mm hardcore</div>
<div class="t" style="top:517.23px;font-size:6.4px;line-height:7.68px;color:#222;left:327px;">item</div>
<div class="t" style="top:517.23px;font-size:6.4px;line-height:7.68px;color:#222;left:213.5px;width:200px;text-align:right;">12.74</div>
<div class="t" style="top:517.23px;font-size:6.4px;line-height:7.68px;color:#222;left:417.5px;">Cissy</div>
<div class="t" style="top:517.23px;font-size:6.4px;line-height:7.68px;color:#222;left:488px;">Dec 11,2020 11:08:58</div>
<div class="r" style="left:585px;top:366.7px;width:7px;height:176.3px;background:#fbfbfb;"></div>
<div class="r" style="left:587.6px;top:390px;width:3.7px;height:151px;background:#c4c4c4;border-radius:2px;"></div>
<div class="r" style="left:0px;top:543px;width:592px;height:5px;background:#f2f2f2;"></div>
<div class="r" style="left:336px;top:544px;width:166px;height:3.6px;background:#c4c4c4;border-radius:2px;"></div>
<div class="r" style="left:592px;top:347px;width:1px;height:201px;background:#dcdcdc;"></div>
<div class="r" style="left:0px;top:548.5px;width:1036px;height:12.5px;background:#e3e3e3;"></div>
<div class="r" style="left:0px;top:548px;width:1036px;height:1px;background:#d2d2d2;"></div>
<div class="r" style="left:0px;top:560.8px;width:1036px;height:1.5px;background:#2c7acb;"></div>
<div class="r" style="left:0px;top:562.3px;width:1036px;height:1px;background:#f4f4f4;"></div>
<div class="t" style="top:552.40px;font-size:6.0px;line-height:7.2px;color:#555;left:4.6px;">252762746@qq.com connected</div>
<div class="r" style="left:936.8px;top:554.8px;width:4.6px;height:1.3px;background:#555;"></div>
<div class="r" style="left:947px;top:555px;width:53px;height:0.9px;background:#9a9a9a;"></div>
<div class="r" style="left:972.7px;top:552.5px;width:2.5px;height:5.5px;background:#555;border-radius:1px;"></div>
<div class="r" style="left:1005px;top:554.8px;width:5.4px;height:1.3px;background:#555;"></div>
<div class="r" style="left:1007.05px;top:552.75px;width:1.3px;height:5.4px;background:#555;"></div>
<div class="t" style="top:553.31px;font-size:5.8px;line-height:6.96px;color:#666;left:1019px;">100%</div>
<div class="r" style="left:593px;top:83px;width:1px;height:464px;background:#f0f0f0;"></div>
<div class="r" style="left:594px;top:83px;width:442px;height:12.5px;background:#e4e4e4;"></div>
<div class="t" style="top:86.12px;font-size:6.5px;line-height:7.8px;color:#222;font-weight:bold;left:597px;">Price Analysis</div>
<svg class="r" style="left:1015.5px;top:86px;" width="5" height="7" viewBox="0 0 5 7"><rect x="1" y="0.3" width="3" height="2.4" fill="#555"/><rect x="0" y="2.8" width="5" height="0.9" fill="#555"/><rect x="2.1" y="3.6" width="0.8" height="2.2" fill="#555"/></svg>
<svg class="r" style="left:1028px;top:86px;" width="6" height="6" viewBox="0 0 6 6"><path d="M0.5 0.5 L5.5 5.5 M5.5 0.5 L0.5 5.5" stroke="#555" stroke-width="0.9"/></svg>
<div class="r" style="left:594px;top:95.5px;width:442px;height:451.5px;background:#fff;"></div>
<div class="r" style="left:602px;top:106px;width:75px;height:13px;background:#f5f5f5;border:1px solid #cfcfcf;"></div>
<div class="r" style="left:662.5px;top:106px;width:1px;height:13px;background:#cfcfcf;"></div>
<svg class="r" style="left:668.5px;top:111.5px;" width="3" height="2" viewBox="0 0 3 2"><path d="M0 0 H3 L1.5 2 Z" fill="#777"/></svg>
<div class="t" style="top:109.42px;font-size:6.5px;line-height:7.8px;color:#222;left:606px;">Month</div>
<div class="r" style="left:683px;top:106px;width:75px;height:13px;background:#f5f5f5;border:1px solid #cfcfcf;"></div>
<div class="r" style="left:743.5px;top:106px;width:1px;height:13px;background:#cfcfcf;"></div>
<svg class="r" style="left:749.5px;top:111.5px;" width="3" height="2" viewBox="0 0 3 2"><path d="M0 0 H3 L1.5 2 Z" fill="#777"/></svg>
<div class="t" style="top:109.42px;font-size:6.5px;line-height:7.8px;color:#222;left:687px;">Last Modified</div>
<div class="r" style="left:599px;top:129px;width:432px;height:340.5px;background:#fff;border:1px solid #e0e0e0;"></div>
<div class="r" style="left:762px;top:138px;width:14px;height:8px;background:#3a8ef0;border-radius:2px;"></div>
<div class="t" style="top:139.17px;font-size:6.6px;line-height:7.92px;color:#444;left:778.6px;">Price</div>
<div class="r" style="left:799px;top:142px;width:13px;height:1px;background:#2ee06a;"></div>
<svg class="r" style="left:802.5px;top:139px;" width="6" height="6" viewBox="0 0 6 6"><circle cx="3" cy="3" r="2.8" fill="#2ee06a"/></svg>
<div class="t" style="top:139.17px;font-size:6.6px;line-height:7.92px;color:#444;left:815.7px;">MoM</div>
<div class="r" style="left:838px;top:142px;width:13px;height:1px;background:#f0952e;"></div>
<svg class="r" style="left:841.5px;top:139px;" width="6" height="6" viewBox="0 0 6 6"><circle cx="3" cy="3" r="2.8" fill="#f0952e"/></svg>
<div class="t" style="top:139.17px;font-size:6.6px;line-height:7.92px;color:#444;left:854px;">YoY</div>
<div class="r" style="left:634px;top:406px;width:372px;height:1px;background:#e4e4e4;"></div>
<div class="r" style="left:634px;top:366px;width:372px;height:1px;background:#e4e4e4;"></div>
<div class="r" style="left:634px;top:325px;width:372px;height:1px;background:#e4e4e4;"></div>
<div class="r" style="left:634px;top:284px;width:372px;height:1px;background:#e4e4e4;"></div>
<div class="r" style="left:634px;top:244px;width:372px;height:1px;background:#e4e4e4;"></div>
<div class="r" style="left:634px;top:203px;width:372px;height:1px;background:#e4e4e4;"></div>
<div class="r" style="left:634px;top:162px;width:372px;height:1px;background:#e4e4e4;"></div>
<div class="r" style="left:882.0px;top:162.3px;width:31.0px;height:284.9px;background:#dcdcdc;"></div>
<div class="r" style="left:633.5px;top:162.3px;width:1.2px;height:285.9px;background:#222;"></div>
<div class="r" style="left:634px;top:447.2px;width:372px;height:1.2px;background:#222;"></div>
<div class="r" style="left:1005.5px;top:162.3px;width:1.5px;height:285.9px;background:#9a9a9a;"></div>
<div class="r" style="left:631px;top:162.3px;width:3px;height:1px;background:#222;"></div>
<div class="t" style="top:158.53px;font-size:6.3px;line-height:7.56px;color:#222;left:588.5px;width:40px;text-align:right;">200%</div>
<div class="r" style="left:631px;top:209.78333333333333px;width:3px;height:1px;background:#222;"></div>
<div class="t" style="top:206.02px;font-size:6.3px;line-height:7.56px;color:#222;left:588.5px;width:40px;text-align:right;">150%</div>
<div class="r" style="left:631px;top:257.26666666666665px;width:3px;height:1px;background:#222;"></div>
<div class="t" style="top:253.50px;font-size:6.3px;line-height:7.56px;color:#222;left:588.5px;width:40px;text-align:right;">100%</div>
<div class="r" style="left:631px;top:304.75px;width:3px;height:1px;background:#222;"></div>
<div class="t" style="top:300.99px;font-size:6.3px;line-height:7.56px;color:#222;left:588.5px;width:40px;text-align:right;">50%</div>
<div class="r" style="left:631px;top:352.23333333333335px;width:3px;height:1px;background:#222;"></div>
<div class="t" style="top:348.47px;font-size:6.3px;line-height:7.56px;color:#222;left:588.5px;width:40px;text-align:right;">0%</div>
<div class="r" style="left:631px;top:399.71666666666664px;width:3px;height:1px;background:#222;"></div>
<div class="t" style="top:395.95px;font-size:6.3px;line-height:7.56px;color:#222;left:588.5px;width:40px;text-align:right;">-50%</div>
<div class="r" style="left:631px;top:447.2px;width:3px;height:1px;background:#222;"></div>
<div class="t" style="top:443.44px;font-size:6.3px;line-height:7.56px;color:#222;left:588.5px;width:40px;text-align:right;">-100%</div>
<div class="r" style="left:1004.5px;top:447.2px;width:3.0px;height:1px;background:#666;"></div>
<div class="t" style="top:443.44px;font-size:6.3px;line-height:7.56px;color:#222;left:1010.5px;">0</div>
<div class="r" style="left:1004.5px;top:406.5px;width:3.0px;height:1px;background:#666;"></div>
<div class="t" style="top:402.74px;font-size:6.3px;line-height:7.56px;color:#222;left:1010.5px;">5</div>
<div class="r" style="left:1004.5px;top:365.79999999999995px;width:3.0px;height:1px;background:#666;"></div>
<div class="t" style="top:362.03px;font-size:6.3px;line-height:7.56px;color:#222;left:1010.5px;">10</div>
<div class="r" style="left:1004.5px;top:325.1px;width:3.0px;height:1px;background:#666;"></div>
<div class="t" style="top:321.34px;font-size:6.3px;line-height:7.56px;color:#222;left:1010.5px;">15</div>
<div class="r" style="left:1004.5px;top:284.4px;width:3.0px;height:1px;background:#666;"></div>
<div class="t" style="top:280.63px;font-size:6.3px;line-height:7.56px;color:#222;left:1010.5px;">20</div>
<div class="r" style="left:1004.5px;top:243.70000000000002px;width:3.0px;height:1px;background:#666;"></div>
<div class="t" style="top:239.94px;font-size:6.3px;line-height:7.56px;color:#222;left:1010.5px;">25</div>
<div class="r" style="left:1004.5px;top:203.0px;width:3.0px;height:1px;background:#666;"></div>
<div class="t" style="top:199.23px;font-size:6.3px;line-height:7.56px;color:#222;left:1010.5px;">30</div>
<div class="r" style="left:1004.5px;top:162.3px;width:3.0px;height:1px;background:#666;"></div>
<div class="t" style="top:158.53px;font-size:6.3px;line-height:7.56px;color:#222;left:1010.5px;">35</div>
<div class="r" style="left:600px;top:448.5px;width:430px;height:7.7px;overflow:hidden">
<div class="t" style="left:29.50px;width:40px;text-align:center;top:1.98px;font-size:6.4px;line-height:9px;color:#444">Feb</div>
<div class="t" style="left:60.50px;width:40px;text-align:center;top:1.98px;font-size:6.4px;line-height:9px;color:#444">Mar</div>
<div class="t" style="left:91.50px;width:40px;text-align:center;top:1.98px;font-size:6.4px;line-height:9px;color:#444">Apr</div>
<div class="t" style="left:122.50px;width:40px;text-align:center;top:1.98px;font-size:6.4px;line-height:9px;color:#444">May</div>
<div class="t" style="left:153.50px;width:40px;text-align:center;top:1.98px;font-size:6.4px;line-height:9px;color:#444">Jun</div>
<div class="t" style="left:184.50px;width:40px;text-align:center;top:1.98px;font-size:6.4px;line-height:9px;color:#444">Jul</div>
<div class="t" style="left:215.50px;width:40px;text-align:center;top:1.98px;font-size:6.4px;line-height:9px;color:#444">Aug</div>
<div class="t" style="left:246.50px;width:40px;text-align:center;top:1.98px;font-size:6.4px;line-height:9px;color:#444">Sep</div>
<div class="r" style="left:288.70px;top:0.5px;width:17.6px;height:10px;background:#111"></div>
<div class="t" style="left:277.50px;width:40px;text-align:center;top:1.98px;font-size:6.4px;line-height:9px;color:#fff">Oct</div>
<div class="t" style="left:308.50px;width:40px;text-align:center;top:1.98px;font-size:6.4px;line-height:9px;color:#444">Nov</div>
<div class="t" style="left:339.50px;width:40px;text-align:center;top:1.98px;font-size:6.4px;line-height:9px;color:#444">Dec</div>
<div class="t" style="left:370.50px;width:40px;text-align:center;top:1.98px;font-size:6.4px;line-height:9px;color:#444">Jan</div>
</div>
<div class="r" style="left:888.7px;top:456.2px;width:17.6px;height:2.8px;background:#111;"></div>
<div class="r" style="left:646.5px;top:343.4964px;width:6px;height:103.7036px;background:#3a8ef0;border-radius:3px 3px 0 0;"></div>
<div class="t" style="top:334.48px;font-size:6.4px;line-height:7.68px;color:#222;left:634.5px;width:30px;text-align:center;">12.74</div>
<div class="r" style="left:677.5px;top:343.4964px;width:6px;height:103.7036px;background:#3a8ef0;border-radius:3px 3px 0 0;"></div>
<div class="t" style="top:334.48px;font-size:6.4px;line-height:7.68px;color:#222;left:665.5px;width:30px;text-align:center;">12.74</div>
<div class="r" style="left:708.5px;top:182.32440000000003px;width:6px;height:264.87559999999996px;background:#3a8ef0;border-radius:3px 3px 0 0;"></div>
<div class="t" style="top:173.30px;font-size:6.4px;line-height:7.68px;color:#222;left:696.5px;width:30px;text-align:center;">32.54</div>
<div class="r" style="left:739.5px;top:182.32440000000003px;width:6px;height:264.87559999999996px;background:#3a8ef0;border-radius:3px 3px 0 0;"></div>
<div class="t" style="top:173.30px;font-size:6.4px;line-height:7.68px;color:#222;left:727.5px;width:30px;text-align:center;">32.54</div>
<div class="r" style="left:770.5px;top:182.32440000000003px;width:6px;height:264.87559999999996px;background:#3a8ef0;border-radius:3px 3px 0 0;"></div>
<div class="t" style="top:173.30px;font-size:6.4px;line-height:7.68px;color:#222;left:758.5px;width:30px;text-align:center;">32.54</div>
<div class="r" style="left:801.5px;top:182.32440000000003px;width:6px;height:264.87559999999996px;background:#3a8ef0;border-radius:3px 3px 0 0;"></div>
<div class="t" style="top:173.30px;font-size:6.4px;line-height:7.68px;color:#222;left:789.5px;width:30px;text-align:center;">32.54</div>
<div class="r" style="left:832.5px;top:182.32440000000003px;width:6px;height:264.87559999999996px;background:#3a8ef0;border-radius:3px 3px 0 0;"></div>
<div class="t" style="top:173.30px;font-size:6.4px;line-height:7.68px;color:#222;left:820.5px;width:30px;text-align:center;">32.54</div>
<div class="r" style="left:863.5px;top:182.32440000000003px;width:6px;height:264.87559999999996px;background:#3a8ef0;border-radius:3px 3px 0 0;"></div>
<div class="t" style="top:173.30px;font-size:6.4px;line-height:7.68px;color:#222;left:851.5px;width:30px;text-align:center;">32.54</div>
<div class="r" style="left:894.5px;top:320.8672px;width:6px;height:126.33279999999996px;background:#5f9fe0;border-radius:3px 3px 0 0;"></div>
<div class="t" style="top:311.85px;font-size:6.4px;line-height:7.68px;color:#222;left:882.5px;width:30px;text-align:center;">15.52</div>
<div class="r" style="left:925.5px;top:318.7508px;width:6px;height:128.44919999999996px;background:#3a8ef0;border-radius:3px 3px 0 0;"></div>
<div class="t" style="top:309.73px;font-size:6.4px;line-height:7.68px;color:#222;left:913.5px;width:30px;text-align:center;">15.78</div>
<div class="r" style="left:956.5px;top:343.4964px;width:6px;height:103.7036px;background:#3a8ef0;border-radius:3px 3px 0 0;"></div>
<div class="t" style="top:334.48px;font-size:6.4px;line-height:7.68px;color:#222;left:944.5px;width:30px;text-align:center;">12.74</div>
<div class="r" style="left:987.5px;top:343.4964px;width:6px;height:103.7036px;background:#3a8ef0;border-radius:3px 3px 0 0;"></div>
<div class="t" style="top:334.48px;font-size:6.4px;line-height:7.68px;color:#222;left:975.5px;width:30px;text-align:center;">12.74</div>
<div class="r" style="left:634px;top:328.5px;width:372px;height:0;border-top:1px dashed #888"></div>
<div class="r" style="left:608px;top:322.7px;width:24.5px;height:12px;background:#000;"></div>
<div class="t" style="top:325.74px;font-size:6.3px;line-height:7.56px;color:#fff;font-weight:bold;left:605.2px;width:30px;text-align:center;">23.76</div>
<div class="r" style="left:999px;top:322.7px;width:24px;height:12px;background:#000;"></div>
<div class="t" style="top:325.74px;font-size:6.3px;line-height:7.56px;color:#fff;font-weight:bold;left:996.0px;width:30px;text-align:center;">14.44</div>
<svg class="r" style="left:0;top:0" width="1038" height="563"><polyline points="649.5,257.3 680.5,257.3 711.5,257.3 742.5,257.3 773.5,257.3 804.5,257.3 835.5,257.3 866.5,257.3 897.5,331.5 928.5,329.5 959.5,352.2 990.5,352.2" fill="none" stroke="#f0952e" stroke-width="1"/><circle cx="649.5" cy="257.3" r="1.6" fill="#f0952e"/><circle cx="680.5" cy="257.3" r="1.6" fill="#f0952e"/><circle cx="711.5" cy="257.3" r="1.6" fill="#f0952e"/><circle cx="742.5" cy="257.3" r="1.6" fill="#f0952e"/><circle cx="773.5" cy="257.3" r="1.6" fill="#f0952e"/><circle cx="804.5" cy="257.3" r="1.6" fill="#f0952e"/><circle cx="835.5" cy="257.3" r="1.6" fill="#f0952e"/><circle cx="866.5" cy="257.3" r="1.6" fill="#f0952e"/><circle cx="897.5" cy="331.5" r="2.6" fill="#f0952e"/><circle cx="928.5" cy="329.5" r="1.6" fill="#f0952e"/><circle cx="959.5" cy="352.2" r="1.6" fill="#f0952e"/><circle cx="990.5" cy="352.2" r="1.6" fill="#f0952e"/><polyline points="649.5,352.2 680.5,352.2 711.5,204.6 742.5,352.2 773.5,352.2 804.5,352.2 835.5,352.2 866.5,352.2 897.5,401.9 928.5,350.6 959.5,370.5 990.5,352.2" fill="none" stroke="#2ee06a" stroke-width="1"/><circle cx="649.5" cy="352.2" r="1.6" fill="#2ee06a"/><circle cx="680.5" cy="352.2" r="1.6" fill="#2ee06a"/><circle cx="711.5" cy="204.6" r="1.6" fill="#2ee06a"/><circle cx="742.5" cy="352.2" r="1.6" fill="#2ee06a"/><circle cx="773.5" cy="352.2" r="1.6" fill="#2ee06a"/><circle cx="804.5" cy="352.2" r="1.6" fill="#2ee06a"/><circle cx="835.5" cy="352.2" r="1.6" fill="#2ee06a"/><circle cx="866.5" cy="352.2" r="1.6" fill="#2ee06a"/><circle cx="897.5" cy="401.9" r="2.8" fill="#2ee06a"/><circle cx="928.5" cy="350.6" r="1.6" fill="#2ee06a"/><circle cx="959.5" cy="370.5" r="1.6" fill="#2ee06a"/><circle cx="990.5" cy="352.2" r="1.6" fill="#2ee06a"/></svg>
<div class="r" style="left:908.2px;top:340px;width:59.5px;height:50.6px;background:rgba(50,50,50,0.72);border-radius:3px;"></div>
<div class="t" style="top:345.04px;font-size:7.2px;line-height:8.64px;color:#fff;left:911.2px;">Oct</div>
<svg class="r" style="left:910.5px;top:357.5px;" width="5" height="5" viewBox="0 0 5 5"><circle cx="2.5" cy="2.5" r="2.4" fill="#f0952e"/></svg>
<div class="t" style="top:356.21px;font-size:7.8px;line-height:9.36px;color:#fff;left:918.8px;">YoY: 21.85</div>
<svg class="r" style="left:910.5px;top:369.0px;" width="5" height="5" viewBox="0 0 5 5"><circle cx="2.5" cy="2.5" r="2.4" fill="#2ee06a"/></svg>
<div class="t" style="top:367.71px;font-size:7.8px;line-height:9.36px;color:#fff;left:918.8px;">MoM: -52.31</div>
<svg class="r" style="left:910.5px;top:380.5px;" width="5" height="5" viewBox="0 0 5 5"><circle cx="2.5" cy="2.5" r="2.4" fill="#3a8ef0"/></svg>
<div class="t" style="top:379.21px;font-size:7.8px;line-height:9.36px;color:#fff;left:918.8px;">Price: 15.52</div>
<div class="r" style="left:599px;top:475.5px;width:431.29999999999995px;height:66.5px;background:#fff;border:1px solid #d8d8d8;"></div>
<div class="r" style="left:642.3px;top:475.5px;width:388.0px;height:17.0px;background:#edf1f7;"></div>
<div class="r" style="left:599px;top:492.5px;width:43.299999999999955px;height:49.5px;background:#edf1f7;"></div>
<div class="r" style="left:599px;top:492px;width:431.29999999999995px;height:1px;background:#dcdcdc;"></div>
<div class="r" style="left:599px;top:508px;width:431.29999999999995px;height:1px;background:#dcdcdc;"></div>
<div class="r" style="left:599px;top:526px;width:431.29999999999995px;height:1px;background:#dcdcdc;"></div>
<div class="r" style="left:642px;top:475.5px;width:1px;height:66.5px;background:#dcdcdc;"></div>
<div class="r" style="left:675px;top:475.5px;width:1px;height:66.5px;background:#dcdcdc;"></div>
<div class="r" style="left:707px;top:475.5px;width:1px;height:66.5px;background:#dcdcdc;"></div>
<div class="r" style="left:740px;top:475.5px;width:1px;height:66.5px;background:#dcdcdc;"></div>
<div class="r" style="left:772px;top:475.5px;width:1px;height:66.5px;background:#dcdcdc;"></div>
<div class="r" style="left:805px;top:475.5px;width:1px;height:66.5px;background:#dcdcdc;"></div>
<div class="r" style="left:837px;top:475.5px;width:1px;height:66.5px;background:#dcdcdc;"></div>
<div class="r" style="left:869px;top:475.5px;width:1px;height:66.5px;background:#dcdcdc;"></div>
<div class="r" style="left:902px;top:475.5px;width:1px;height:66.5px;background:#dcdcdc;"></div>
<div class="r" style="left:934px;top:475.5px;width:1px;height:66.5px;background:#dcdcdc;"></div>
<div class="r" style="left:967px;top:475.5px;width:1px;height:66.5px;background:#dcdcdc;"></div>
<div class="r" style="left:998px;top:475.5px;width:1px;height:66.5px;background:#dcdcdc;"></div>
<div class="t" style="top:480.93px;font-size:6.5px;line-height:7.8px;color:#444;font-weight:bold;left:558.45px;width:200px;text-align:center;">Feb</div>
<div class="t" style="top:480.93px;font-size:6.5px;line-height:7.8px;color:#444;font-weight:bold;left:590.6px;width:200px;text-align:center;">Mar</div>
<div class="t" style="top:480.93px;font-size:6.5px;line-height:7.8px;color:#444;font-weight:bold;left:623.1px;width:200px;text-align:center;">Apr</div>
<div class="t" style="top:480.93px;font-size:6.5px;line-height:7.8px;color:#444;font-weight:bold;left:655.6500000000001px;width:200px;text-align:center;">May</div>
<div class="t" style="top:480.93px;font-size:6.5px;line-height:7.8px;color:#444;font-weight:bold;left:688.1500000000001px;width:200px;text-align:center;">Jun</div>
<div class="t" style="top:480.93px;font-size:6.5px;line-height:7.8px;color:#444;font-weight:bold;left:720.7px;width:200px;text-align:center;">Jul</div>
<div class="t" style="top:480.93px;font-size:6.5px;line-height:7.8px;color:#444;font-weight:bold;left:752.8499999999999px;width:200px;text-align:center;">Aug</div>
<div class="t" style="top:480.93px;font-size:6.5px;line-height:7.8px;color:#444;font-weight:bold;left:785.3499999999999px;width:200px;text-align:center;">Sep</div>
<div class="t" style="top:480.93px;font-size:6.5px;line-height:7.8px;color:#444;font-weight:bold;left:818.15px;width:200px;text-align:center;">Oct</div>
<div class="t" style="top:480.93px;font-size:6.5px;line-height:7.8px;color:#444;font-weight:bold;left:850.55px;width:200px;text-align:center;">Nov</div>
<div class="t" style="top:480.93px;font-size:6.5px;line-height:7.8px;color:#444;font-weight:bold;left:882.5px;width:200px;text-align:center;">Dec</div>
<div class="t" style="top:480.93px;font-size:6.5px;line-height:7.8px;color:#444;font-weight:bold;left:914.3499999999999px;width:200px;text-align:center;">Jan</div>
<div class="t" style="top:497.49px;font-size:6.3px;line-height:7.56px;color:#444;font-weight:bold;left:604px;">Price</div>
<svg class="r" style="left:631.5px;top:496.95px;" width="7" height="7" viewBox="0 0 7 7"><circle cx="3.5" cy="3.5" r="3" fill="none" stroke="#666" stroke-width="0.7"/><path d="M3.5 2 V5.2" stroke="#666" stroke-width="0.8"/></svg>
<div class="t" style="top:514.38px;font-size:6.3px;line-height:7.56px;color:#444;font-weight:bold;left:604px;">MoM</div>
<svg class="r" style="left:631.5px;top:513.8499999999999px;" width="7" height="7" viewBox="0 0 7 7"><circle cx="3.5" cy="3.5" r="3" fill="none" stroke="#666" stroke-width="0.7"/><path d="M3.5 2 V5.2" stroke="#666" stroke-width="0.8"/></svg>
<div class="t" style="top:531.19px;font-size:6.3px;line-height:7.56px;color:#444;font-weight:bold;left:604px;">YoY</div>
<svg class="r" style="left:631.5px;top:530.65px;" width="7" height="7" viewBox="0 0 7 7"><circle cx="3.5" cy="3.5" r="3" fill="none" stroke="#666" stroke-width="0.7"/><path d="M3.5 2 V5.2" stroke="#666" stroke-width="0.8"/></svg>
<div class="t" style="top:497.38px;font-size:6.5px;line-height:7.8px;color:#333;left:472.6px;width:200px;text-align:right;">12.74</div>
<div class="t" style="top:514.27px;font-size:6.5px;line-height:7.8px;color:#222;left:472.6px;width:200px;text-align:right;">0.00%</div>
<div class="t" style="top:531.08px;font-size:6.5px;line-height:7.8px;color:#222;left:472.6px;width:200px;text-align:right;">100.00%</div>
<div class="t" style="top:497.38px;font-size:6.5px;line-height:7.8px;color:#b8b8b8;left:504.6px;width:200px;text-align:right;">12.74</div>
<div class="t" style="top:514.27px;font-size:6.5px;line-height:7.8px;color:#222;left:504.6px;width:200px;text-align:right;">0.00%</div>
<div class="t" style="top:531.08px;font-size:6.5px;line-height:7.8px;color:#222;left:504.6px;width:200px;text-align:right;">100.00%</div>
<div class="t" style="top:497.38px;font-size:6.5px;line-height:7.8px;color:#333;left:537.6px;width:200px;text-align:right;">32.54</div>
<div class="t" style="top:514.27px;font-size:6.5px;line-height:7.8px;color:#222;left:537.6px;width:200px;text-align:right;">155.50%</div>
<div class="t" style="top:531.08px;font-size:6.5px;line-height:7.8px;color:#222;left:537.6px;width:200px;text-align:right;">100.00%</div>
<div class="t" style="top:497.38px;font-size:6.5px;line-height:7.8px;color:#b8b8b8;left:569.7px;width:200px;text-align:right;">32.54</div>
<div class="t" style="top:514.27px;font-size:6.5px;line-height:7.8px;color:#222;left:569.7px;width:200px;text-align:right;">0.00%</div>
<div class="t" style="top:531.08px;font-size:6.5px;line-height:7.8px;color:#222;left:569.7px;width:200px;text-align:right;">100.00%</div>
<div class="t" style="top:497.38px;font-size:6.5px;line-height:7.8px;color:#b8b8b8;left:602.6px;width:200px;text-align:right;">32.54</div>
<div class="t" style="top:514.27px;font-size:6.5px;line-height:7.8px;color:#222;left:602.6px;width:200px;text-align:right;">0.00%</div>
<div class="t" style="top:531.08px;font-size:6.5px;line-height:7.8px;color:#222;left:602.6px;width:200px;text-align:right;">100.00%</div>
<div class="t" style="top:497.38px;font-size:6.5px;line-height:7.8px;color:#b8b8b8;left:634.8px;width:200px;text-align:right;">32.54</div>
<div class="t" style="top:514.27px;font-size:6.5px;line-height:7.8px;color:#222;left:634.8px;width:200px;text-align:right;">0.00%</div>
<div class="t" style="top:531.08px;font-size:6.5px;line-height:7.8px;color:#222;left:634.8px;width:200px;text-align:right;">100.00%</div>
<div class="t" style="top:497.38px;font-size:6.5px;line-height:7.8px;color:#b8b8b8;left:666.9px;width:200px;text-align:right;">32.54</div>
<div class="t" style="top:514.27px;font-size:6.5px;line-height:7.8px;color:#222;left:666.9px;width:200px;text-align:right;">0.00%</div>
<div class="t" style="top:531.08px;font-size:6.5px;line-height:7.8px;color:#222;left:666.9px;width:200px;text-align:right;">100.00%</div>
<div class="t" style="top:497.38px;font-size:6.5px;line-height:7.8px;color:#b8b8b8;left:699.8px;width:200px;text-align:right;">32.54</div>
<div class="t" style="top:514.27px;font-size:6.5px;line-height:7.8px;color:#222;left:699.8px;width:200px;text-align:right;">0.00%</div>
<div class="t" style="top:531.08px;font-size:6.5px;line-height:7.8px;color:#222;left:699.8px;width:200px;text-align:right;">100.00%</div>
<div class="t" style="top:497.38px;font-size:6.5px;line-height:7.8px;color:#333;left:732.5px;width:200px;text-align:right;">15.52</div>
<div class="t" style="top:514.27px;font-size:6.5px;line-height:7.8px;color:#222;left:732.5px;width:200px;text-align:right;">-52.31%</div>
<div class="t" style="top:531.08px;font-size:6.5px;line-height:7.8px;color:#222;left:732.5px;width:200px;text-align:right;">21.85%</div>
<div class="t" style="top:497.38px;font-size:6.5px;line-height:7.8px;color:#333;left:764.6px;width:200px;text-align:right;">15.78</div>
<div class="t" style="top:514.27px;font-size:6.5px;line-height:7.8px;color:#222;left:764.6px;width:200px;text-align:right;">1.69%</div>
<div class="t" style="top:531.08px;font-size:6.5px;line-height:7.8px;color:#222;left:764.6px;width:200px;text-align:right;">23.90%</div>
<div class="t" style="top:497.38px;font-size:6.5px;line-height:7.8px;color:#333;left:796.4px;width:200px;text-align:right;">12.74</div>
<div class="t" style="top:514.27px;font-size:6.5px;line-height:7.8px;color:#222;left:796.4px;width:200px;text-align:right;">-19.26%</div>
<div class="t" style="top:531.08px;font-size:6.5px;line-height:7.8px;color:#222;left:796.4px;width:200px;text-align:right;">0.03%</div>
<div class="t" style="top:497.38px;font-size:6.5px;line-height:7.8px;color:#b8b8b8;left:828.3px;width:200px;text-align:right;">12.74</div>
<div class="t" style="top:514.27px;font-size:6.5px;line-height:7.8px;color:#222;left:828.3px;width:200px;text-align:right;">0.00%</div>
<div class="t" style="top:531.08px;font-size:6.5px;line-height:7.8px;color:#222;left:828.3px;width:200px;text-align:right;">0.03%</div>
</body></html>
